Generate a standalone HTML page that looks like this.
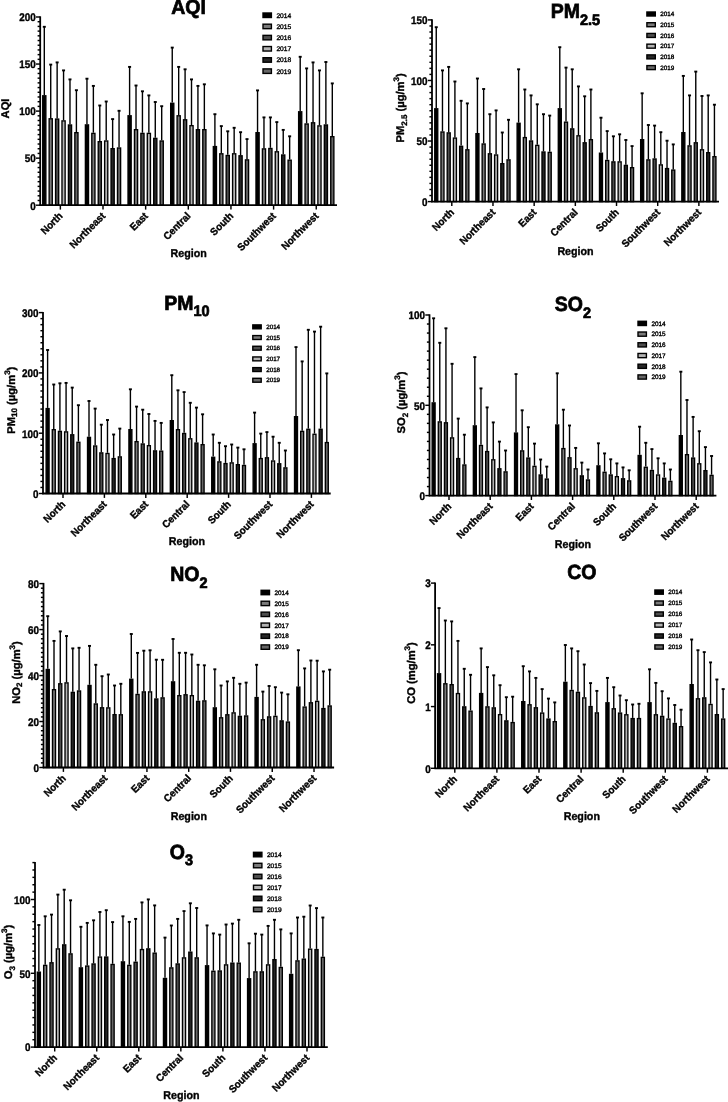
<!DOCTYPE html>
<html><head><meta charset="utf-8"><title>Charts</title>
<style>
html,body{margin:0;padding:0;background:#fff;}
body{width:728px;height:1102px;overflow:hidden;}
svg{display:block;filter:grayscale(1);text-rendering:geometricPrecision;-webkit-font-smoothing:antialiased;font-family:"Liberation Sans",sans-serif;}
.a{stroke:#000;stroke-width:1.8;}
.t{stroke:#000;stroke-width:1.45;}
.e{stroke:#000;stroke-width:1.4;}
.c{stroke:#000;stroke-width:1.9;}
.b{stroke:#000;stroke-width:1.35;}
.lb{stroke:#000;stroke-width:1.4;}
.yl{font-size:9.9px;font-weight:bold;text-anchor:end;stroke:#000;stroke-width:0.35px;}
.xl{font-size:9.8px;font-weight:bold;text-anchor:end;stroke:#000;stroke-width:0.35px;}
.rg{font-size:10.7px;font-weight:bold;text-anchor:middle;stroke:#000;stroke-width:0.35px;}
.ti{font-size:19.5px;font-weight:bold;text-anchor:middle;stroke:#000;stroke-width:0.7px;}
.yt{font-size:11.2px;font-weight:bold;text-anchor:middle;stroke:#000;stroke-width:0.35px;}
.lg{stroke:#000;stroke-width:0.35px;}
</style></head>
<body><svg width="728" height="1102" viewBox="0 0 728 1102">
<line x1="44.3" y1="95.1" x2="44.3" y2="26.8" class="e"/>
<line x1="42.8" y1="26.8" x2="45.8" y2="26.8" class="c"/>
<rect x="42.72" y="95.77" width="3.15" height="109.42" fill="#000000" class="b"/>
<line x1="50.72" y1="118.1" x2="50.72" y2="64.6" class="e"/>
<line x1="49.22" y1="64.6" x2="52.22" y2="64.6" class="c"/>
<rect x="49.14" y="118.77" width="3.15" height="86.42" fill="#7a7a7a" class="b"/>
<line x1="57.14" y1="118.4" x2="57.14" y2="62.4" class="e"/>
<line x1="55.64" y1="62.4" x2="58.64" y2="62.4" class="c"/>
<rect x="55.56" y="119.08" width="3.15" height="86.12" fill="#4e4e4e" class="b"/>
<line x1="63.56" y1="120.2" x2="63.56" y2="70.4" class="e"/>
<line x1="62.06" y1="70.4" x2="65.06" y2="70.4" class="c"/>
<rect x="61.98" y="120.88" width="3.15" height="84.32" fill="#b4b4b4" class="b"/>
<line x1="69.98" y1="124.3" x2="69.98" y2="79.4" class="e"/>
<line x1="68.48" y1="79.4" x2="71.48" y2="79.4" class="c"/>
<rect x="68.41" y="124.97" width="3.15" height="80.22" fill="#262626" class="b"/>
<line x1="76.4" y1="132" x2="76.4" y2="90.2" class="e"/>
<line x1="74.9" y1="90.2" x2="77.9" y2="90.2" class="c"/>
<rect x="74.83" y="132.68" width="3.15" height="72.52" fill="#666666" class="b"/>
<line x1="86.95" y1="124.2" x2="86.95" y2="78.7" class="e"/>
<line x1="85.45" y1="78.7" x2="88.45" y2="78.7" class="c"/>
<rect x="85.38" y="124.88" width="3.15" height="80.32" fill="#000000" class="b"/>
<line x1="93.37" y1="132.7" x2="93.37" y2="85.9" class="e"/>
<line x1="91.87" y1="85.9" x2="94.87" y2="85.9" class="c"/>
<rect x="91.8" y="133.38" width="3.15" height="71.83" fill="#7a7a7a" class="b"/>
<line x1="99.79" y1="141" x2="99.79" y2="105.5" class="e"/>
<line x1="98.29" y1="105.5" x2="101.29" y2="105.5" class="c"/>
<rect x="98.22" y="141.68" width="3.15" height="63.52" fill="#4e4e4e" class="b"/>
<line x1="106.21" y1="140.3" x2="106.21" y2="101.5" class="e"/>
<line x1="104.71" y1="101.5" x2="107.71" y2="101.5" class="c"/>
<rect x="104.63" y="140.98" width="3.15" height="64.22" fill="#b4b4b4" class="b"/>
<line x1="112.63" y1="148" x2="112.63" y2="119.1" class="e"/>
<line x1="111.13" y1="119.1" x2="114.13" y2="119.1" class="c"/>
<rect x="111.05" y="148.68" width="3.15" height="56.52" fill="#262626" class="b"/>
<line x1="119.05" y1="147.3" x2="119.05" y2="110.8" class="e"/>
<line x1="117.55" y1="110.8" x2="120.55" y2="110.8" class="c"/>
<rect x="117.47" y="147.98" width="3.15" height="57.22" fill="#666666" class="b"/>
<line x1="129.6" y1="115.1" x2="129.6" y2="66.9" class="e"/>
<line x1="128.1" y1="66.9" x2="131.1" y2="66.9" class="c"/>
<rect x="128.03" y="115.77" width="3.15" height="89.42" fill="#000000" class="b"/>
<line x1="136.02" y1="129" x2="136.02" y2="85.5" class="e"/>
<line x1="134.52" y1="85.5" x2="137.52" y2="85.5" class="c"/>
<rect x="134.45" y="129.68" width="3.15" height="75.52" fill="#7a7a7a" class="b"/>
<line x1="142.44" y1="132.7" x2="142.44" y2="91.3" class="e"/>
<line x1="140.94" y1="91.3" x2="143.94" y2="91.3" class="c"/>
<rect x="140.87" y="133.38" width="3.15" height="71.83" fill="#4e4e4e" class="b"/>
<line x1="148.86" y1="132.7" x2="148.86" y2="95.4" class="e"/>
<line x1="147.36" y1="95.4" x2="150.36" y2="95.4" class="c"/>
<rect x="147.29" y="133.38" width="3.15" height="71.83" fill="#b4b4b4" class="b"/>
<line x1="155.28" y1="137.7" x2="155.28" y2="102" class="e"/>
<line x1="153.78" y1="102" x2="156.78" y2="102" class="c"/>
<rect x="153.71" y="138.38" width="3.15" height="66.83" fill="#262626" class="b"/>
<line x1="161.7" y1="140.3" x2="161.7" y2="106.2" class="e"/>
<line x1="160.2" y1="106.2" x2="163.2" y2="106.2" class="c"/>
<rect x="160.13" y="140.98" width="3.15" height="64.22" fill="#666666" class="b"/>
<line x1="172.25" y1="102.6" x2="172.25" y2="47.6" class="e"/>
<line x1="170.75" y1="47.6" x2="173.75" y2="47.6" class="c"/>
<rect x="170.67" y="103.27" width="3.15" height="101.92" fill="#000000" class="b"/>
<line x1="178.67" y1="115.1" x2="178.67" y2="66.9" class="e"/>
<line x1="177.17" y1="66.9" x2="180.17" y2="66.9" class="c"/>
<rect x="177.09" y="115.77" width="3.15" height="89.42" fill="#7a7a7a" class="b"/>
<line x1="185.09" y1="119.1" x2="185.09" y2="69.3" class="e"/>
<line x1="183.59" y1="69.3" x2="186.59" y2="69.3" class="c"/>
<rect x="183.51" y="119.77" width="3.15" height="85.42" fill="#4e4e4e" class="b"/>
<line x1="191.51" y1="125" x2="191.51" y2="79.4" class="e"/>
<line x1="190.01" y1="79.4" x2="193.01" y2="79.4" class="c"/>
<rect x="189.94" y="125.67" width="3.15" height="79.52" fill="#b4b4b4" class="b"/>
<line x1="197.93" y1="129" x2="197.93" y2="85.9" class="e"/>
<line x1="196.43" y1="85.9" x2="199.43" y2="85.9" class="c"/>
<rect x="196.35" y="129.68" width="3.15" height="75.52" fill="#262626" class="b"/>
<line x1="204.35" y1="129" x2="204.35" y2="84.3" class="e"/>
<line x1="202.85" y1="84.3" x2="205.85" y2="84.3" class="c"/>
<rect x="202.78" y="129.68" width="3.15" height="75.52" fill="#666666" class="b"/>
<line x1="214.9" y1="145.9" x2="214.9" y2="114.2" class="e"/>
<line x1="213.4" y1="114.2" x2="216.4" y2="114.2" class="c"/>
<rect x="213.32" y="146.58" width="3.15" height="58.62" fill="#000000" class="b"/>
<line x1="221.32" y1="153.1" x2="221.32" y2="126.1" class="e"/>
<line x1="219.82" y1="126.1" x2="222.82" y2="126.1" class="c"/>
<rect x="219.75" y="153.78" width="3.15" height="51.42" fill="#7a7a7a" class="b"/>
<line x1="227.74" y1="154.8" x2="227.74" y2="131.3" class="e"/>
<line x1="226.24" y1="131.3" x2="229.24" y2="131.3" class="c"/>
<rect x="226.16" y="155.48" width="3.15" height="49.72" fill="#4e4e4e" class="b"/>
<line x1="234.16" y1="153.1" x2="234.16" y2="127.8" class="e"/>
<line x1="232.66" y1="127.8" x2="235.66" y2="127.8" class="c"/>
<rect x="232.59" y="153.78" width="3.15" height="51.42" fill="#b4b4b4" class="b"/>
<line x1="240.58" y1="155.1" x2="240.58" y2="132.2" class="e"/>
<line x1="239.08" y1="132.2" x2="242.08" y2="132.2" class="c"/>
<rect x="239" y="155.78" width="3.15" height="49.42" fill="#262626" class="b"/>
<line x1="247" y1="159.2" x2="247" y2="139.1" class="e"/>
<line x1="245.5" y1="139.1" x2="248.5" y2="139.1" class="c"/>
<rect x="245.43" y="159.88" width="3.15" height="45.33" fill="#666666" class="b"/>
<line x1="257.55" y1="132" x2="257.55" y2="90.4" class="e"/>
<line x1="256.05" y1="90.4" x2="259.05" y2="90.4" class="c"/>
<rect x="255.98" y="132.68" width="3.15" height="72.52" fill="#000000" class="b"/>
<line x1="263.97" y1="148.2" x2="263.97" y2="117.4" class="e"/>
<line x1="262.47" y1="117.4" x2="265.47" y2="117.4" class="c"/>
<rect x="262.4" y="148.88" width="3.15" height="56.33" fill="#7a7a7a" class="b"/>
<line x1="270.39" y1="147.8" x2="270.39" y2="117.4" class="e"/>
<line x1="268.89" y1="117.4" x2="271.89" y2="117.4" class="c"/>
<rect x="268.82" y="148.48" width="3.15" height="56.72" fill="#4e4e4e" class="b"/>
<line x1="276.81" y1="151.1" x2="276.81" y2="122.1" class="e"/>
<line x1="275.31" y1="122.1" x2="278.31" y2="122.1" class="c"/>
<rect x="275.24" y="151.78" width="3.15" height="53.42" fill="#b4b4b4" class="b"/>
<line x1="283.23" y1="154.3" x2="283.23" y2="129.9" class="e"/>
<line x1="281.73" y1="129.9" x2="284.73" y2="129.9" class="c"/>
<rect x="281.66" y="154.98" width="3.15" height="50.22" fill="#262626" class="b"/>
<line x1="289.65" y1="159.5" x2="289.65" y2="136.3" class="e"/>
<line x1="288.15" y1="136.3" x2="291.15" y2="136.3" class="c"/>
<rect x="288.08" y="160.18" width="3.15" height="45.02" fill="#666666" class="b"/>
<line x1="300.2" y1="111.1" x2="300.2" y2="56.8" class="e"/>
<line x1="298.7" y1="56.8" x2="301.7" y2="56.8" class="c"/>
<rect x="298.62" y="111.77" width="3.15" height="93.42" fill="#000000" class="b"/>
<line x1="306.62" y1="123.3" x2="306.62" y2="68.4" class="e"/>
<line x1="305.12" y1="68.4" x2="308.12" y2="68.4" class="c"/>
<rect x="305.05" y="123.97" width="3.15" height="81.22" fill="#7a7a7a" class="b"/>
<line x1="313.04" y1="122.1" x2="313.04" y2="62.4" class="e"/>
<line x1="311.54" y1="62.4" x2="314.54" y2="62.4" class="c"/>
<rect x="311.47" y="122.77" width="3.15" height="82.42" fill="#4e4e4e" class="b"/>
<line x1="319.46" y1="125.2" x2="319.46" y2="70.4" class="e"/>
<line x1="317.96" y1="70.4" x2="320.96" y2="70.4" class="c"/>
<rect x="317.88" y="125.88" width="3.15" height="79.32" fill="#b4b4b4" class="b"/>
<line x1="325.88" y1="124.3" x2="325.88" y2="62" class="e"/>
<line x1="324.38" y1="62" x2="327.38" y2="62" class="c"/>
<rect x="324.31" y="124.97" width="3.15" height="80.22" fill="#262626" class="b"/>
<line x1="332.3" y1="136" x2="332.3" y2="83.4" class="e"/>
<line x1="330.8" y1="83.4" x2="333.8" y2="83.4" class="c"/>
<rect x="330.73" y="136.68" width="3.15" height="68.52" fill="#666666" class="b"/>
<line x1="40.2" y1="16.3" x2="40.2" y2="205.9" class="a"/>
<line x1="39.5" y1="205.2" x2="337" y2="205.2" class="a"/>
<line x1="37.6" y1="200.49" x2="40.2" y2="200.49" class="t"/>
<line x1="37.6" y1="195.79" x2="40.2" y2="195.79" class="t"/>
<line x1="37.6" y1="191.08" x2="40.2" y2="191.08" class="t"/>
<line x1="37.6" y1="186.38" x2="40.2" y2="186.38" class="t"/>
<line x1="37.6" y1="181.67" x2="40.2" y2="181.67" class="t"/>
<line x1="37.6" y1="176.97" x2="40.2" y2="176.97" class="t"/>
<line x1="37.6" y1="172.26" x2="40.2" y2="172.26" class="t"/>
<line x1="37.6" y1="167.56" x2="40.2" y2="167.56" class="t"/>
<line x1="37.6" y1="162.85" x2="40.2" y2="162.85" class="t"/>
<line x1="37.6" y1="153.44" x2="40.2" y2="153.44" class="t"/>
<line x1="37.6" y1="148.74" x2="40.2" y2="148.74" class="t"/>
<line x1="37.6" y1="144.03" x2="40.2" y2="144.03" class="t"/>
<line x1="37.6" y1="139.33" x2="40.2" y2="139.33" class="t"/>
<line x1="37.6" y1="134.62" x2="40.2" y2="134.62" class="t"/>
<line x1="37.6" y1="129.92" x2="40.2" y2="129.92" class="t"/>
<line x1="37.6" y1="125.21" x2="40.2" y2="125.21" class="t"/>
<line x1="37.6" y1="120.51" x2="40.2" y2="120.51" class="t"/>
<line x1="37.6" y1="115.8" x2="40.2" y2="115.8" class="t"/>
<line x1="37.6" y1="106.39" x2="40.2" y2="106.39" class="t"/>
<line x1="37.6" y1="101.69" x2="40.2" y2="101.69" class="t"/>
<line x1="37.6" y1="96.98" x2="40.2" y2="96.98" class="t"/>
<line x1="37.6" y1="92.28" x2="40.2" y2="92.28" class="t"/>
<line x1="37.6" y1="87.57" x2="40.2" y2="87.57" class="t"/>
<line x1="37.6" y1="82.87" x2="40.2" y2="82.87" class="t"/>
<line x1="37.6" y1="78.16" x2="40.2" y2="78.16" class="t"/>
<line x1="37.6" y1="73.46" x2="40.2" y2="73.46" class="t"/>
<line x1="37.6" y1="68.75" x2="40.2" y2="68.75" class="t"/>
<line x1="37.6" y1="59.34" x2="40.2" y2="59.34" class="t"/>
<line x1="37.6" y1="54.64" x2="40.2" y2="54.64" class="t"/>
<line x1="37.6" y1="49.94" x2="40.2" y2="49.94" class="t"/>
<line x1="37.6" y1="45.23" x2="40.2" y2="45.23" class="t"/>
<line x1="37.6" y1="40.53" x2="40.2" y2="40.53" class="t"/>
<line x1="37.6" y1="35.82" x2="40.2" y2="35.82" class="t"/>
<line x1="37.6" y1="31.12" x2="40.2" y2="31.12" class="t"/>
<line x1="37.6" y1="26.41" x2="40.2" y2="26.41" class="t"/>
<line x1="37.6" y1="21.71" x2="40.2" y2="21.71" class="t"/>
<line x1="36" y1="205.2" x2="40.2" y2="205.2" class="t"/>
<line x1="36" y1="158.15" x2="40.2" y2="158.15" class="t"/>
<line x1="36" y1="111.1" x2="40.2" y2="111.1" class="t"/>
<line x1="36" y1="64.05" x2="40.2" y2="64.05" class="t"/>
<line x1="36" y1="17" x2="40.2" y2="17" class="t"/>
<text transform="translate(35.8 209.5) scale(1 1.12)" class="yl">0</text>
<text transform="translate(35.8 162.45) scale(1 1.12)" class="yl">50</text>
<text transform="translate(35.8 115.4) scale(1 1.12)" class="yl">100</text>
<text transform="translate(35.8 68.35) scale(1 1.12)" class="yl">150</text>
<text transform="translate(35.8 21.3) scale(1 1.12)" class="yl">200</text>
<line x1="60.35" y1="205.2" x2="60.35" y2="209.6" class="t"/>
<text transform="translate(63.35 216.6) rotate(-45) scale(1 1.05)" class="xl">North</text>
<line x1="103" y1="205.2" x2="103" y2="209.6" class="t"/>
<text transform="translate(106 216.6) rotate(-45) scale(1 1.05)" class="xl">Northeast</text>
<line x1="145.65" y1="205.2" x2="145.65" y2="209.6" class="t"/>
<text transform="translate(148.65 216.6) rotate(-45) scale(1 1.05)" class="xl">East</text>
<line x1="188.3" y1="205.2" x2="188.3" y2="209.6" class="t"/>
<text transform="translate(191.3 216.6) rotate(-45) scale(1 1.05)" class="xl">Central</text>
<line x1="230.95" y1="205.2" x2="230.95" y2="209.6" class="t"/>
<text transform="translate(233.95 216.6) rotate(-45) scale(1 1.05)" class="xl">South</text>
<line x1="273.6" y1="205.2" x2="273.6" y2="209.6" class="t"/>
<text transform="translate(276.6 216.6) rotate(-45) scale(1 1.05)" class="xl">Southwest</text>
<line x1="316.25" y1="205.2" x2="316.25" y2="209.6" class="t"/>
<text transform="translate(319.25 216.6) rotate(-45) scale(1 1.05)" class="xl">Northwest</text>
<text transform="translate(188.6 257.4) scale(1 1.06)" class="rg">Region</text>
<text transform="translate(188.6 14.4) scale(1 1.05)" class="ti"><tspan>AQI</tspan></text>
<text transform="translate(9.3 108.5) rotate(-90)" class="yt"><tspan>AQI</tspan></text>
<rect x="263" y="13" width="8.4" height="4.5" fill="#000000" class="lb"/>
<text x="276.4" y="17.65" class="lg" font-size="6.7">2014</text>
<rect x="263" y="24.18" width="8.4" height="4.5" fill="#7a7a7a" class="lb"/>
<text x="276.4" y="28.83" class="lg" font-size="6.7">2015</text>
<rect x="263" y="35.36" width="8.4" height="4.5" fill="#4e4e4e" class="lb"/>
<text x="276.4" y="40.01" class="lg" font-size="6.7">2016</text>
<rect x="263" y="46.54" width="8.4" height="4.5" fill="#b4b4b4" class="lb"/>
<text x="276.4" y="51.19" class="lg" font-size="6.7">2017</text>
<rect x="263" y="57.72" width="8.4" height="4.5" fill="#262626" class="lb"/>
<text x="276.4" y="62.37" class="lg" font-size="6.7">2018</text>
<rect x="263" y="68.9" width="8.4" height="4.5" fill="#666666" class="lb"/>
<text x="276.4" y="73.55" class="lg" font-size="6.7">2019</text>
<line x1="436.25" y1="108.1" x2="436.25" y2="27.2" class="e"/>
<line x1="434.75" y1="27.2" x2="437.75" y2="27.2" class="c"/>
<rect x="434.75" y="108.77" width="3.01" height="92.83" fill="#000000" class="b"/>
<line x1="442.47" y1="131.3" x2="442.47" y2="70.4" class="e"/>
<line x1="440.97" y1="70.4" x2="443.97" y2="70.4" class="c"/>
<rect x="440.97" y="131.98" width="3.01" height="69.62" fill="#7a7a7a" class="b"/>
<line x1="448.69" y1="132.2" x2="448.69" y2="66.9" class="e"/>
<line x1="447.19" y1="66.9" x2="450.19" y2="66.9" class="c"/>
<rect x="447.19" y="132.88" width="3.01" height="68.73" fill="#4e4e4e" class="b"/>
<line x1="454.91" y1="137.4" x2="454.91" y2="81.5" class="e"/>
<line x1="453.41" y1="81.5" x2="456.41" y2="81.5" class="c"/>
<rect x="453.41" y="138.08" width="3.01" height="63.52" fill="#b4b4b4" class="b"/>
<line x1="461.13" y1="145.6" x2="461.13" y2="100.8" class="e"/>
<line x1="459.63" y1="100.8" x2="462.63" y2="100.8" class="c"/>
<rect x="459.63" y="146.28" width="3.01" height="55.33" fill="#262626" class="b"/>
<line x1="467.35" y1="149.1" x2="467.35" y2="103.4" class="e"/>
<line x1="465.85" y1="103.4" x2="468.85" y2="103.4" class="c"/>
<rect x="465.85" y="149.78" width="3.01" height="51.83" fill="#666666" class="b"/>
<line x1="477.43" y1="133" x2="477.43" y2="78.5" class="e"/>
<line x1="475.93" y1="78.5" x2="478.93" y2="78.5" class="c"/>
<rect x="475.93" y="133.68" width="3.01" height="67.92" fill="#000000" class="b"/>
<line x1="483.65" y1="143.3" x2="483.65" y2="89" class="e"/>
<line x1="482.15" y1="89" x2="485.15" y2="89" class="c"/>
<rect x="482.15" y="143.98" width="3.01" height="57.62" fill="#7a7a7a" class="b"/>
<line x1="489.87" y1="153.1" x2="489.87" y2="114.2" class="e"/>
<line x1="488.37" y1="114.2" x2="491.37" y2="114.2" class="c"/>
<rect x="488.37" y="153.78" width="3.01" height="47.83" fill="#4e4e4e" class="b"/>
<line x1="496.09" y1="154.3" x2="496.09" y2="110.4" class="e"/>
<line x1="494.59" y1="110.4" x2="497.59" y2="110.4" class="c"/>
<rect x="494.59" y="154.98" width="3.01" height="46.62" fill="#b4b4b4" class="b"/>
<line x1="502.31" y1="163" x2="502.31" y2="132.5" class="e"/>
<line x1="500.81" y1="132.5" x2="503.81" y2="132.5" class="c"/>
<rect x="500.81" y="163.68" width="3.01" height="37.92" fill="#262626" class="b"/>
<line x1="508.53" y1="159.2" x2="508.53" y2="119.8" class="e"/>
<line x1="507.03" y1="119.8" x2="510.03" y2="119.8" class="c"/>
<rect x="507.03" y="159.88" width="3.01" height="41.73" fill="#666666" class="b"/>
<line x1="518.61" y1="122.6" x2="518.61" y2="69.3" class="e"/>
<line x1="517.11" y1="69.3" x2="520.11" y2="69.3" class="c"/>
<rect x="517.11" y="123.27" width="3.01" height="78.33" fill="#000000" class="b"/>
<line x1="524.83" y1="136.9" x2="524.83" y2="89.5" class="e"/>
<line x1="523.33" y1="89.5" x2="526.33" y2="89.5" class="c"/>
<rect x="523.33" y="137.58" width="3.01" height="64.02" fill="#7a7a7a" class="b"/>
<line x1="531.05" y1="140.3" x2="531.05" y2="95.4" class="e"/>
<line x1="529.55" y1="95.4" x2="532.55" y2="95.4" class="c"/>
<rect x="529.55" y="140.98" width="3.01" height="60.62" fill="#4e4e4e" class="b"/>
<line x1="537.27" y1="144.7" x2="537.27" y2="104.3" class="e"/>
<line x1="535.77" y1="104.3" x2="538.77" y2="104.3" class="c"/>
<rect x="535.77" y="145.38" width="3.01" height="56.23" fill="#b4b4b4" class="b"/>
<line x1="543.49" y1="151.3" x2="543.49" y2="114.2" class="e"/>
<line x1="541.99" y1="114.2" x2="544.99" y2="114.2" class="c"/>
<rect x="541.99" y="151.98" width="3.01" height="49.62" fill="#262626" class="b"/>
<line x1="549.71" y1="151.7" x2="549.71" y2="115.6" class="e"/>
<line x1="548.21" y1="115.6" x2="551.21" y2="115.6" class="c"/>
<rect x="548.21" y="152.38" width="3.01" height="49.23" fill="#666666" class="b"/>
<line x1="559.79" y1="108.1" x2="559.79" y2="47.2" class="e"/>
<line x1="558.29" y1="47.2" x2="561.29" y2="47.2" class="c"/>
<rect x="558.29" y="108.77" width="3.01" height="92.83" fill="#000000" class="b"/>
<line x1="566.01" y1="121.5" x2="566.01" y2="67.6" class="e"/>
<line x1="564.51" y1="67.6" x2="567.51" y2="67.6" class="c"/>
<rect x="564.51" y="122.17" width="3.01" height="79.42" fill="#7a7a7a" class="b"/>
<line x1="572.23" y1="128.2" x2="572.23" y2="69.3" class="e"/>
<line x1="570.73" y1="69.3" x2="573.73" y2="69.3" class="c"/>
<rect x="570.73" y="128.88" width="3.01" height="72.73" fill="#4e4e4e" class="b"/>
<line x1="578.45" y1="135.1" x2="578.45" y2="86.4" class="e"/>
<line x1="576.95" y1="86.4" x2="579.95" y2="86.4" class="c"/>
<rect x="576.95" y="135.78" width="3.01" height="65.83" fill="#b4b4b4" class="b"/>
<line x1="584.67" y1="142.1" x2="584.67" y2="96.3" class="e"/>
<line x1="583.17" y1="96.3" x2="586.17" y2="96.3" class="c"/>
<rect x="583.17" y="142.78" width="3.01" height="58.83" fill="#262626" class="b"/>
<line x1="590.89" y1="139" x2="590.89" y2="89.5" class="e"/>
<line x1="589.39" y1="89.5" x2="592.39" y2="89.5" class="c"/>
<rect x="589.39" y="139.68" width="3.01" height="61.92" fill="#666666" class="b"/>
<line x1="600.97" y1="152.5" x2="600.97" y2="117.7" class="e"/>
<line x1="599.47" y1="117.7" x2="602.47" y2="117.7" class="c"/>
<rect x="599.47" y="153.18" width="3.01" height="48.42" fill="#000000" class="b"/>
<line x1="607.19" y1="159.8" x2="607.19" y2="131.1" class="e"/>
<line x1="605.69" y1="131.1" x2="608.69" y2="131.1" class="c"/>
<rect x="605.69" y="160.48" width="3.01" height="41.12" fill="#7a7a7a" class="b"/>
<line x1="613.41" y1="161.2" x2="613.41" y2="136.3" class="e"/>
<line x1="611.91" y1="136.3" x2="614.91" y2="136.3" class="c"/>
<rect x="611.91" y="161.88" width="3.01" height="39.73" fill="#4e4e4e" class="b"/>
<line x1="619.63" y1="161.2" x2="619.63" y2="134.3" class="e"/>
<line x1="618.13" y1="134.3" x2="621.13" y2="134.3" class="c"/>
<rect x="618.13" y="161.88" width="3.01" height="39.73" fill="#b4b4b4" class="b"/>
<line x1="625.85" y1="164.7" x2="625.85" y2="140" class="e"/>
<line x1="624.35" y1="140" x2="627.35" y2="140" class="c"/>
<rect x="624.35" y="165.38" width="3.01" height="36.23" fill="#262626" class="b"/>
<line x1="632.07" y1="167" x2="632.07" y2="146.1" class="e"/>
<line x1="630.57" y1="146.1" x2="633.57" y2="146.1" class="c"/>
<rect x="630.57" y="167.68" width="3.01" height="33.92" fill="#666666" class="b"/>
<line x1="642.15" y1="139" x2="642.15" y2="93.3" class="e"/>
<line x1="640.65" y1="93.3" x2="643.65" y2="93.3" class="c"/>
<rect x="640.65" y="139.68" width="3.01" height="61.92" fill="#000000" class="b"/>
<line x1="648.37" y1="159.2" x2="648.37" y2="125" class="e"/>
<line x1="646.87" y1="125" x2="649.87" y2="125" class="c"/>
<rect x="646.87" y="159.88" width="3.01" height="41.73" fill="#7a7a7a" class="b"/>
<line x1="654.59" y1="158.3" x2="654.59" y2="125.6" class="e"/>
<line x1="653.09" y1="125.6" x2="656.09" y2="125.6" class="c"/>
<rect x="653.09" y="158.98" width="3.01" height="42.62" fill="#4e4e4e" class="b"/>
<line x1="660.81" y1="164.2" x2="660.81" y2="132.2" class="e"/>
<line x1="659.31" y1="132.2" x2="662.31" y2="132.2" class="c"/>
<rect x="659.31" y="164.88" width="3.01" height="36.73" fill="#b4b4b4" class="b"/>
<line x1="667.03" y1="167.9" x2="667.03" y2="140.7" class="e"/>
<line x1="665.53" y1="140.7" x2="668.53" y2="140.7" class="c"/>
<rect x="665.53" y="168.58" width="3.01" height="33.02" fill="#262626" class="b"/>
<line x1="673.25" y1="169.4" x2="673.25" y2="144.4" class="e"/>
<line x1="671.75" y1="144.4" x2="674.75" y2="144.4" class="c"/>
<rect x="671.75" y="170.08" width="3.01" height="31.52" fill="#666666" class="b"/>
<line x1="683.33" y1="132" x2="683.33" y2="75.9" class="e"/>
<line x1="681.83" y1="75.9" x2="684.83" y2="75.9" class="c"/>
<rect x="681.83" y="132.68" width="3.01" height="68.92" fill="#000000" class="b"/>
<line x1="689.55" y1="145.2" x2="689.55" y2="95.4" class="e"/>
<line x1="688.05" y1="95.4" x2="691.05" y2="95.4" class="c"/>
<rect x="688.05" y="145.88" width="3.01" height="55.73" fill="#7a7a7a" class="b"/>
<line x1="695.77" y1="142.1" x2="695.77" y2="71.6" class="e"/>
<line x1="694.27" y1="71.6" x2="697.27" y2="71.6" class="c"/>
<rect x="694.27" y="142.78" width="3.01" height="58.83" fill="#4e4e4e" class="b"/>
<line x1="701.99" y1="149.1" x2="701.99" y2="96" class="e"/>
<line x1="700.49" y1="96" x2="703.49" y2="96" class="c"/>
<rect x="700.49" y="149.78" width="3.01" height="51.83" fill="#b4b4b4" class="b"/>
<line x1="708.21" y1="152" x2="708.21" y2="95.4" class="e"/>
<line x1="706.71" y1="95.4" x2="709.71" y2="95.4" class="c"/>
<rect x="706.71" y="152.68" width="3.01" height="48.92" fill="#262626" class="b"/>
<line x1="714.43" y1="156" x2="714.43" y2="104.7" class="e"/>
<line x1="712.93" y1="104.7" x2="715.93" y2="104.7" class="c"/>
<rect x="712.93" y="156.68" width="3.01" height="44.92" fill="#666666" class="b"/>
<line x1="432" y1="19.2" x2="432" y2="202.3" class="a"/>
<line x1="431.3" y1="201.6" x2="719" y2="201.6" class="a"/>
<line x1="429.4" y1="195.54" x2="432" y2="195.54" class="t"/>
<line x1="429.4" y1="189.49" x2="432" y2="189.49" class="t"/>
<line x1="429.4" y1="183.43" x2="432" y2="183.43" class="t"/>
<line x1="429.4" y1="177.37" x2="432" y2="177.37" class="t"/>
<line x1="429.4" y1="171.32" x2="432" y2="171.32" class="t"/>
<line x1="429.4" y1="165.26" x2="432" y2="165.26" class="t"/>
<line x1="429.4" y1="159.2" x2="432" y2="159.2" class="t"/>
<line x1="429.4" y1="153.15" x2="432" y2="153.15" class="t"/>
<line x1="429.4" y1="147.09" x2="432" y2="147.09" class="t"/>
<line x1="429.4" y1="134.98" x2="432" y2="134.98" class="t"/>
<line x1="429.4" y1="128.92" x2="432" y2="128.92" class="t"/>
<line x1="429.4" y1="122.86" x2="432" y2="122.86" class="t"/>
<line x1="429.4" y1="116.81" x2="432" y2="116.81" class="t"/>
<line x1="429.4" y1="110.75" x2="432" y2="110.75" class="t"/>
<line x1="429.4" y1="104.69" x2="432" y2="104.69" class="t"/>
<line x1="429.4" y1="98.64" x2="432" y2="98.64" class="t"/>
<line x1="429.4" y1="92.58" x2="432" y2="92.58" class="t"/>
<line x1="429.4" y1="86.52" x2="432" y2="86.52" class="t"/>
<line x1="429.4" y1="74.41" x2="432" y2="74.41" class="t"/>
<line x1="429.4" y1="68.35" x2="432" y2="68.35" class="t"/>
<line x1="429.4" y1="62.3" x2="432" y2="62.3" class="t"/>
<line x1="429.4" y1="56.24" x2="432" y2="56.24" class="t"/>
<line x1="429.4" y1="50.18" x2="432" y2="50.18" class="t"/>
<line x1="429.4" y1="44.13" x2="432" y2="44.13" class="t"/>
<line x1="429.4" y1="38.07" x2="432" y2="38.07" class="t"/>
<line x1="429.4" y1="32.01" x2="432" y2="32.01" class="t"/>
<line x1="429.4" y1="25.96" x2="432" y2="25.96" class="t"/>
<line x1="427.8" y1="201.6" x2="432" y2="201.6" class="t"/>
<line x1="427.8" y1="141.03" x2="432" y2="141.03" class="t"/>
<line x1="427.8" y1="80.47" x2="432" y2="80.47" class="t"/>
<line x1="427.8" y1="19.9" x2="432" y2="19.9" class="t"/>
<text transform="translate(427.6 205.9) scale(1 1.12)" class="yl">0</text>
<text transform="translate(427.6 145.33) scale(1 1.12)" class="yl">50</text>
<text transform="translate(427.6 84.77) scale(1 1.12)" class="yl">100</text>
<text transform="translate(427.6 24.2) scale(1 1.12)" class="yl">150</text>
<line x1="451.8" y1="201.6" x2="451.8" y2="206" class="t"/>
<text transform="translate(454.8 213) rotate(-45) scale(1 1.05)" class="xl">North</text>
<line x1="492.98" y1="201.6" x2="492.98" y2="206" class="t"/>
<text transform="translate(495.98 213) rotate(-45) scale(1 1.05)" class="xl">Northeast</text>
<line x1="534.16" y1="201.6" x2="534.16" y2="206" class="t"/>
<text transform="translate(537.16 213) rotate(-45) scale(1 1.05)" class="xl">East</text>
<line x1="575.34" y1="201.6" x2="575.34" y2="206" class="t"/>
<text transform="translate(578.34 213) rotate(-45) scale(1 1.05)" class="xl">Central</text>
<line x1="616.52" y1="201.6" x2="616.52" y2="206" class="t"/>
<text transform="translate(619.52 213) rotate(-45) scale(1 1.05)" class="xl">South</text>
<line x1="657.7" y1="201.6" x2="657.7" y2="206" class="t"/>
<text transform="translate(660.7 213) rotate(-45) scale(1 1.05)" class="xl">Southwest</text>
<line x1="698.88" y1="201.6" x2="698.88" y2="206" class="t"/>
<text transform="translate(701.88 213) rotate(-45) scale(1 1.05)" class="xl">Northwest</text>
<text transform="translate(575.5 255.2) scale(1 1.06)" class="rg">Region</text>
<text transform="translate(575.5 17.9) scale(1 1.05)" class="ti"><tspan>PM</tspan><tspan dy="6.3" font-size="14.5">2.5</tspan></text>
<text transform="translate(404 107.9) rotate(-90)" class="yt"><tspan>PM</tspan><tspan dy="2.6" font-size="8">2.5</tspan><tspan dy="-2.6"> (µg/m</tspan><tspan dy="-4.6" font-size="8">3</tspan><tspan dy="4.6">)</tspan></text>
<rect x="646.9" y="12" width="8.4" height="4" fill="#000000" class="lb"/>
<text x="660.3" y="16.26" class="lg" font-size="6.3">2014</text>
<rect x="646.9" y="22.72" width="8.4" height="4" fill="#7a7a7a" class="lb"/>
<text x="660.3" y="26.98" class="lg" font-size="6.3">2015</text>
<rect x="646.9" y="33.44" width="8.4" height="4" fill="#4e4e4e" class="lb"/>
<text x="660.3" y="37.7" class="lg" font-size="6.3">2016</text>
<rect x="646.9" y="44.16" width="8.4" height="4" fill="#b4b4b4" class="lb"/>
<text x="660.3" y="48.42" class="lg" font-size="6.3">2017</text>
<rect x="646.9" y="54.88" width="8.4" height="4" fill="#262626" class="lb"/>
<text x="660.3" y="59.14" class="lg" font-size="6.3">2018</text>
<rect x="646.9" y="65.6" width="8.4" height="4" fill="#666666" class="lb"/>
<text x="660.3" y="69.86" class="lg" font-size="6.3">2019</text>
<line x1="47.6" y1="407.9" x2="47.6" y2="350" class="e"/>
<line x1="46.1" y1="350" x2="49.1" y2="350" class="c"/>
<rect x="46.12" y="408.57" width="2.97" height="84.93" fill="#000000" class="b"/>
<line x1="53.76" y1="429" x2="53.76" y2="384.5" class="e"/>
<line x1="52.26" y1="384.5" x2="55.26" y2="384.5" class="c"/>
<rect x="52.28" y="429.68" width="2.97" height="63.83" fill="#7a7a7a" class="b"/>
<line x1="59.92" y1="430.7" x2="59.92" y2="383.3" class="e"/>
<line x1="58.42" y1="383.3" x2="61.42" y2="383.3" class="c"/>
<rect x="58.44" y="431.38" width="2.97" height="62.13" fill="#4e4e4e" class="b"/>
<line x1="66.08" y1="431.2" x2="66.08" y2="382.9" class="e"/>
<line x1="64.58" y1="382.9" x2="67.58" y2="382.9" class="c"/>
<rect x="64.6" y="431.88" width="2.97" height="61.63" fill="#b4b4b4" class="b"/>
<line x1="72.24" y1="434.1" x2="72.24" y2="387.6" class="e"/>
<line x1="70.74" y1="387.6" x2="73.74" y2="387.6" class="c"/>
<rect x="70.76" y="434.78" width="2.97" height="58.72" fill="#262626" class="b"/>
<line x1="78.4" y1="441.6" x2="78.4" y2="405.2" class="e"/>
<line x1="76.9" y1="405.2" x2="79.9" y2="405.2" class="c"/>
<rect x="76.92" y="442.28" width="2.97" height="51.22" fill="#666666" class="b"/>
<line x1="89" y1="436.7" x2="89" y2="401" class="e"/>
<line x1="87.5" y1="401" x2="90.5" y2="401" class="c"/>
<rect x="87.52" y="437.38" width="2.97" height="56.13" fill="#000000" class="b"/>
<line x1="95.16" y1="445.3" x2="95.16" y2="408.6" class="e"/>
<line x1="93.66" y1="408.6" x2="96.66" y2="408.6" class="c"/>
<rect x="93.68" y="445.98" width="2.97" height="47.52" fill="#7a7a7a" class="b"/>
<line x1="101.32" y1="452.2" x2="101.32" y2="424.7" class="e"/>
<line x1="99.82" y1="424.7" x2="102.82" y2="424.7" class="c"/>
<rect x="99.84" y="452.88" width="2.97" height="40.63" fill="#4e4e4e" class="b"/>
<line x1="107.48" y1="452.8" x2="107.48" y2="420" class="e"/>
<line x1="105.98" y1="420" x2="108.98" y2="420" class="c"/>
<rect x="106" y="453.48" width="2.97" height="40.02" fill="#b4b4b4" class="b"/>
<line x1="113.64" y1="457.9" x2="113.64" y2="434.5" class="e"/>
<line x1="112.14" y1="434.5" x2="115.14" y2="434.5" class="c"/>
<rect x="112.16" y="458.57" width="2.97" height="34.93" fill="#262626" class="b"/>
<line x1="119.8" y1="456.2" x2="119.8" y2="428.6" class="e"/>
<line x1="118.3" y1="428.6" x2="121.3" y2="428.6" class="c"/>
<rect x="118.32" y="456.88" width="2.97" height="36.63" fill="#666666" class="b"/>
<line x1="130.4" y1="429" x2="130.4" y2="389.3" class="e"/>
<line x1="128.9" y1="389.3" x2="131.9" y2="389.3" class="c"/>
<rect x="128.92" y="429.68" width="2.97" height="63.83" fill="#000000" class="b"/>
<line x1="136.56" y1="441" x2="136.56" y2="406.6" class="e"/>
<line x1="135.06" y1="406.6" x2="138.06" y2="406.6" class="c"/>
<rect x="135.08" y="441.68" width="2.97" height="51.83" fill="#7a7a7a" class="b"/>
<line x1="142.72" y1="443.3" x2="142.72" y2="409.7" class="e"/>
<line x1="141.22" y1="409.7" x2="144.22" y2="409.7" class="c"/>
<rect x="141.24" y="443.98" width="2.97" height="49.52" fill="#4e4e4e" class="b"/>
<line x1="148.88" y1="445" x2="148.88" y2="414" class="e"/>
<line x1="147.38" y1="414" x2="150.38" y2="414" class="c"/>
<rect x="147.4" y="445.68" width="2.97" height="47.83" fill="#b4b4b4" class="b"/>
<line x1="155.04" y1="450.2" x2="155.04" y2="420.9" class="e"/>
<line x1="153.54" y1="420.9" x2="156.54" y2="420.9" class="c"/>
<rect x="153.56" y="450.88" width="2.97" height="42.63" fill="#262626" class="b"/>
<line x1="161.2" y1="450.5" x2="161.2" y2="422.9" class="e"/>
<line x1="159.7" y1="422.9" x2="162.7" y2="422.9" class="c"/>
<rect x="159.72" y="451.18" width="2.97" height="42.33" fill="#666666" class="b"/>
<line x1="171.8" y1="420" x2="171.8" y2="375.2" class="e"/>
<line x1="170.3" y1="375.2" x2="173.3" y2="375.2" class="c"/>
<rect x="170.32" y="420.68" width="2.97" height="72.83" fill="#000000" class="b"/>
<line x1="177.96" y1="429" x2="177.96" y2="390.3" class="e"/>
<line x1="176.46" y1="390.3" x2="179.46" y2="390.3" class="c"/>
<rect x="176.48" y="429.68" width="2.97" height="63.83" fill="#7a7a7a" class="b"/>
<line x1="184.12" y1="432.8" x2="184.12" y2="392.1" class="e"/>
<line x1="182.62" y1="392.1" x2="185.62" y2="392.1" class="c"/>
<rect x="182.64" y="433.48" width="2.97" height="60.02" fill="#4e4e4e" class="b"/>
<line x1="190.28" y1="438.1" x2="190.28" y2="402.8" class="e"/>
<line x1="188.78" y1="402.8" x2="191.78" y2="402.8" class="c"/>
<rect x="188.8" y="438.78" width="2.97" height="54.72" fill="#b4b4b4" class="b"/>
<line x1="196.44" y1="442.4" x2="196.44" y2="407.6" class="e"/>
<line x1="194.94" y1="407.6" x2="197.94" y2="407.6" class="c"/>
<rect x="194.96" y="443.07" width="2.97" height="50.43" fill="#262626" class="b"/>
<line x1="202.6" y1="444" x2="202.6" y2="414.3" class="e"/>
<line x1="201.1" y1="414.3" x2="204.1" y2="414.3" class="c"/>
<rect x="201.12" y="444.68" width="2.97" height="48.83" fill="#666666" class="b"/>
<line x1="213.2" y1="456.6" x2="213.2" y2="434.5" class="e"/>
<line x1="211.7" y1="434.5" x2="214.7" y2="434.5" class="c"/>
<rect x="211.72" y="457.28" width="2.97" height="36.22" fill="#000000" class="b"/>
<line x1="219.36" y1="461.2" x2="219.36" y2="442.8" class="e"/>
<line x1="217.86" y1="442.8" x2="220.86" y2="442.8" class="c"/>
<rect x="217.88" y="461.88" width="2.97" height="31.63" fill="#7a7a7a" class="b"/>
<line x1="225.52" y1="462.9" x2="225.52" y2="446.2" class="e"/>
<line x1="224.02" y1="446.2" x2="227.02" y2="446.2" class="c"/>
<rect x="224.04" y="463.57" width="2.97" height="29.93" fill="#4e4e4e" class="b"/>
<line x1="231.68" y1="462.2" x2="231.68" y2="444.5" class="e"/>
<line x1="230.18" y1="444.5" x2="233.18" y2="444.5" class="c"/>
<rect x="230.2" y="462.88" width="2.97" height="30.63" fill="#b4b4b4" class="b"/>
<line x1="237.84" y1="464" x2="237.84" y2="447.6" class="e"/>
<line x1="236.34" y1="447.6" x2="239.34" y2="447.6" class="c"/>
<rect x="236.36" y="464.68" width="2.97" height="28.82" fill="#262626" class="b"/>
<line x1="244" y1="464.8" x2="244" y2="449.3" class="e"/>
<line x1="242.5" y1="449.3" x2="245.5" y2="449.3" class="c"/>
<rect x="242.52" y="465.48" width="2.97" height="28.02" fill="#666666" class="b"/>
<line x1="254.6" y1="443.1" x2="254.6" y2="412.6" class="e"/>
<line x1="253.1" y1="412.6" x2="256.1" y2="412.6" class="c"/>
<rect x="253.12" y="443.78" width="2.97" height="49.72" fill="#000000" class="b"/>
<line x1="260.76" y1="457.9" x2="260.76" y2="433.6" class="e"/>
<line x1="259.26" y1="433.6" x2="262.26" y2="433.6" class="c"/>
<rect x="259.28" y="458.57" width="2.97" height="34.93" fill="#7a7a7a" class="b"/>
<line x1="266.92" y1="457.1" x2="266.92" y2="432.1" class="e"/>
<line x1="265.42" y1="432.1" x2="268.42" y2="432.1" class="c"/>
<rect x="265.44" y="457.78" width="2.97" height="35.72" fill="#4e4e4e" class="b"/>
<line x1="273.08" y1="460.3" x2="273.08" y2="436.7" class="e"/>
<line x1="271.58" y1="436.7" x2="274.58" y2="436.7" class="c"/>
<rect x="271.6" y="460.98" width="2.97" height="32.52" fill="#b4b4b4" class="b"/>
<line x1="279.24" y1="463.1" x2="279.24" y2="442.8" class="e"/>
<line x1="277.74" y1="442.8" x2="280.74" y2="442.8" class="c"/>
<rect x="277.76" y="463.78" width="2.97" height="29.72" fill="#262626" class="b"/>
<line x1="285.4" y1="467.2" x2="285.4" y2="450.5" class="e"/>
<line x1="283.9" y1="450.5" x2="286.9" y2="450.5" class="c"/>
<rect x="283.92" y="467.88" width="2.97" height="25.63" fill="#666666" class="b"/>
<line x1="296" y1="416" x2="296" y2="347.1" class="e"/>
<line x1="294.5" y1="347.1" x2="297.5" y2="347.1" class="c"/>
<rect x="294.52" y="416.68" width="2.97" height="76.83" fill="#000000" class="b"/>
<line x1="302.16" y1="430.7" x2="302.16" y2="361.4" class="e"/>
<line x1="300.66" y1="361.4" x2="303.66" y2="361.4" class="c"/>
<rect x="300.68" y="431.38" width="2.97" height="62.13" fill="#7a7a7a" class="b"/>
<line x1="308.32" y1="428.6" x2="308.32" y2="329.8" class="e"/>
<line x1="306.82" y1="329.8" x2="309.82" y2="329.8" class="c"/>
<rect x="306.84" y="429.28" width="2.97" height="64.22" fill="#4e4e4e" class="b"/>
<line x1="314.48" y1="433.6" x2="314.48" y2="331.6" class="e"/>
<line x1="312.98" y1="331.6" x2="315.98" y2="331.6" class="c"/>
<rect x="313" y="434.28" width="2.97" height="59.22" fill="#b4b4b4" class="b"/>
<line x1="320.64" y1="428.6" x2="320.64" y2="326.7" class="e"/>
<line x1="319.14" y1="326.7" x2="322.14" y2="326.7" class="c"/>
<rect x="319.16" y="429.28" width="2.97" height="64.22" fill="#262626" class="b"/>
<line x1="326.8" y1="441.9" x2="326.8" y2="373.4" class="e"/>
<line x1="325.3" y1="373.4" x2="328.3" y2="373.4" class="c"/>
<rect x="325.32" y="442.57" width="2.97" height="50.93" fill="#666666" class="b"/>
<line x1="43" y1="311.9" x2="43" y2="494.2" class="a"/>
<line x1="42.3" y1="493.5" x2="330.7" y2="493.5" class="a"/>
<line x1="40.4" y1="487.47" x2="43" y2="487.47" class="t"/>
<line x1="40.4" y1="481.44" x2="43" y2="481.44" class="t"/>
<line x1="40.4" y1="475.41" x2="43" y2="475.41" class="t"/>
<line x1="40.4" y1="469.38" x2="43" y2="469.38" class="t"/>
<line x1="40.4" y1="463.35" x2="43" y2="463.35" class="t"/>
<line x1="40.4" y1="457.32" x2="43" y2="457.32" class="t"/>
<line x1="40.4" y1="451.29" x2="43" y2="451.29" class="t"/>
<line x1="40.4" y1="445.26" x2="43" y2="445.26" class="t"/>
<line x1="40.4" y1="439.23" x2="43" y2="439.23" class="t"/>
<line x1="40.4" y1="427.17" x2="43" y2="427.17" class="t"/>
<line x1="40.4" y1="421.14" x2="43" y2="421.14" class="t"/>
<line x1="40.4" y1="415.11" x2="43" y2="415.11" class="t"/>
<line x1="40.4" y1="409.08" x2="43" y2="409.08" class="t"/>
<line x1="40.4" y1="403.05" x2="43" y2="403.05" class="t"/>
<line x1="40.4" y1="397.02" x2="43" y2="397.02" class="t"/>
<line x1="40.4" y1="390.99" x2="43" y2="390.99" class="t"/>
<line x1="40.4" y1="384.96" x2="43" y2="384.96" class="t"/>
<line x1="40.4" y1="378.93" x2="43" y2="378.93" class="t"/>
<line x1="40.4" y1="366.87" x2="43" y2="366.87" class="t"/>
<line x1="40.4" y1="360.84" x2="43" y2="360.84" class="t"/>
<line x1="40.4" y1="354.81" x2="43" y2="354.81" class="t"/>
<line x1="40.4" y1="348.78" x2="43" y2="348.78" class="t"/>
<line x1="40.4" y1="342.75" x2="43" y2="342.75" class="t"/>
<line x1="40.4" y1="336.72" x2="43" y2="336.72" class="t"/>
<line x1="40.4" y1="330.69" x2="43" y2="330.69" class="t"/>
<line x1="40.4" y1="324.66" x2="43" y2="324.66" class="t"/>
<line x1="40.4" y1="318.63" x2="43" y2="318.63" class="t"/>
<line x1="38.8" y1="493.5" x2="43" y2="493.5" class="t"/>
<line x1="38.8" y1="433.2" x2="43" y2="433.2" class="t"/>
<line x1="38.8" y1="372.9" x2="43" y2="372.9" class="t"/>
<line x1="38.8" y1="312.6" x2="43" y2="312.6" class="t"/>
<text transform="translate(38.6 497.8) scale(1 1.12)" class="yl">0</text>
<text transform="translate(38.6 437.5) scale(1 1.12)" class="yl">100</text>
<text transform="translate(38.6 377.2) scale(1 1.12)" class="yl">200</text>
<text transform="translate(38.6 316.9) scale(1 1.12)" class="yl">300</text>
<line x1="63" y1="493.5" x2="63" y2="497.9" class="t"/>
<text transform="translate(66 504.9) rotate(-45) scale(1 1.05)" class="xl">North</text>
<line x1="104.4" y1="493.5" x2="104.4" y2="497.9" class="t"/>
<text transform="translate(107.4 504.9) rotate(-45) scale(1 1.05)" class="xl">Northeast</text>
<line x1="145.8" y1="493.5" x2="145.8" y2="497.9" class="t"/>
<text transform="translate(148.8 504.9) rotate(-45) scale(1 1.05)" class="xl">East</text>
<line x1="187.2" y1="493.5" x2="187.2" y2="497.9" class="t"/>
<text transform="translate(190.2 504.9) rotate(-45) scale(1 1.05)" class="xl">Central</text>
<line x1="228.6" y1="493.5" x2="228.6" y2="497.9" class="t"/>
<text transform="translate(231.6 504.9) rotate(-45) scale(1 1.05)" class="xl">South</text>
<line x1="270" y1="493.5" x2="270" y2="497.9" class="t"/>
<text transform="translate(273 504.9) rotate(-45) scale(1 1.05)" class="xl">Southwest</text>
<line x1="311.4" y1="493.5" x2="311.4" y2="497.9" class="t"/>
<text transform="translate(314.4 504.9) rotate(-45) scale(1 1.05)" class="xl">Northwest</text>
<text transform="translate(186.85 545.2) scale(1 1.06)" class="rg">Region</text>
<text transform="translate(186.85 309.7) scale(1 1.05)" class="ti"><tspan>PM</tspan><tspan dy="6.3" font-size="14.5">10</tspan></text>
<text transform="translate(14.8 400.2) rotate(-90)" class="yt"><tspan>PM</tspan><tspan dy="2.6" font-size="8">10</tspan><tspan dy="-2.6"> (µg/m</tspan><tspan dy="-4.6" font-size="8">3</tspan><tspan dy="4.6">)</tspan></text>
<rect x="252.8" y="324.9" width="8.4" height="3.9" fill="#000000" class="lb"/>
<text x="266.2" y="329.09" class="lg" font-size="6.25">2014</text>
<rect x="252.8" y="335.58" width="8.4" height="3.9" fill="#7a7a7a" class="lb"/>
<text x="266.2" y="339.77" class="lg" font-size="6.25">2015</text>
<rect x="252.8" y="346.26" width="8.4" height="3.9" fill="#4e4e4e" class="lb"/>
<text x="266.2" y="350.45" class="lg" font-size="6.25">2016</text>
<rect x="252.8" y="356.94" width="8.4" height="3.9" fill="#b4b4b4" class="lb"/>
<text x="266.2" y="361.13" class="lg" font-size="6.25">2017</text>
<rect x="252.8" y="367.62" width="8.4" height="3.9" fill="#262626" class="lb"/>
<text x="266.2" y="371.81" class="lg" font-size="6.25">2018</text>
<rect x="252.8" y="378.3" width="8.4" height="3.9" fill="#666666" class="lb"/>
<text x="266.2" y="382.49" class="lg" font-size="6.25">2019</text>
<line x1="433.62" y1="402.2" x2="433.62" y2="318.3" class="e"/>
<line x1="432.12" y1="318.3" x2="435.12" y2="318.3" class="c"/>
<rect x="432.14" y="402.88" width="2.96" height="92.73" fill="#000000" class="b"/>
<line x1="439.77" y1="421.2" x2="439.77" y2="342.8" class="e"/>
<line x1="438.27" y1="342.8" x2="441.27" y2="342.8" class="c"/>
<rect x="438.29" y="421.88" width="2.96" height="73.73" fill="#7a7a7a" class="b"/>
<line x1="445.93" y1="422.1" x2="445.93" y2="328.3" class="e"/>
<line x1="444.43" y1="328.3" x2="447.43" y2="328.3" class="c"/>
<rect x="444.44" y="422.78" width="2.96" height="72.83" fill="#4e4e4e" class="b"/>
<line x1="452.07" y1="437.2" x2="452.07" y2="363.8" class="e"/>
<line x1="450.57" y1="363.8" x2="453.57" y2="363.8" class="c"/>
<rect x="450.59" y="437.88" width="2.96" height="57.73" fill="#b4b4b4" class="b"/>
<line x1="458.23" y1="457.9" x2="458.23" y2="418.6" class="e"/>
<line x1="456.73" y1="418.6" x2="459.73" y2="418.6" class="c"/>
<rect x="456.74" y="458.57" width="2.96" height="37.03" fill="#262626" class="b"/>
<line x1="464.38" y1="464.3" x2="464.38" y2="434.7" class="e"/>
<line x1="462.88" y1="434.7" x2="465.88" y2="434.7" class="c"/>
<rect x="462.89" y="464.98" width="2.96" height="30.63" fill="#666666" class="b"/>
<line x1="474.82" y1="425.2" x2="474.82" y2="357.1" class="e"/>
<line x1="473.32" y1="357.1" x2="476.32" y2="357.1" class="c"/>
<rect x="473.34" y="425.88" width="2.96" height="69.73" fill="#000000" class="b"/>
<line x1="480.97" y1="444.8" x2="480.97" y2="388.4" class="e"/>
<line x1="479.47" y1="388.4" x2="482.47" y2="388.4" class="c"/>
<rect x="479.49" y="445.48" width="2.96" height="50.13" fill="#7a7a7a" class="b"/>
<line x1="487.12" y1="450.9" x2="487.12" y2="407.4" class="e"/>
<line x1="485.62" y1="407.4" x2="488.62" y2="407.4" class="c"/>
<rect x="485.64" y="451.57" width="2.96" height="44.03" fill="#4e4e4e" class="b"/>
<line x1="493.27" y1="459.1" x2="493.27" y2="422.4" class="e"/>
<line x1="491.77" y1="422.4" x2="494.77" y2="422.4" class="c"/>
<rect x="491.79" y="459.78" width="2.96" height="35.83" fill="#b4b4b4" class="b"/>
<line x1="499.43" y1="468.1" x2="499.43" y2="441.6" class="e"/>
<line x1="497.93" y1="441.6" x2="500.93" y2="441.6" class="c"/>
<rect x="497.94" y="468.78" width="2.96" height="26.82" fill="#262626" class="b"/>
<line x1="505.57" y1="471.2" x2="505.57" y2="450.5" class="e"/>
<line x1="504.07" y1="450.5" x2="507.07" y2="450.5" class="c"/>
<rect x="504.09" y="471.88" width="2.96" height="23.73" fill="#666666" class="b"/>
<line x1="516.02" y1="432.4" x2="516.02" y2="374.1" class="e"/>
<line x1="514.52" y1="374.1" x2="517.52" y2="374.1" class="c"/>
<rect x="514.54" y="433.07" width="2.96" height="62.53" fill="#000000" class="b"/>
<line x1="522.17" y1="450.2" x2="522.17" y2="410.3" class="e"/>
<line x1="520.67" y1="410.3" x2="523.67" y2="410.3" class="c"/>
<rect x="520.69" y="450.88" width="2.96" height="44.73" fill="#7a7a7a" class="b"/>
<line x1="528.32" y1="457.4" x2="528.32" y2="427.2" class="e"/>
<line x1="526.82" y1="427.2" x2="529.82" y2="427.2" class="c"/>
<rect x="526.84" y="458.07" width="2.96" height="37.53" fill="#4e4e4e" class="b"/>
<line x1="534.48" y1="465.7" x2="534.48" y2="443.6" class="e"/>
<line x1="532.98" y1="443.6" x2="535.98" y2="443.6" class="c"/>
<rect x="532.99" y="466.38" width="2.96" height="29.23" fill="#b4b4b4" class="b"/>
<line x1="540.62" y1="474.3" x2="540.62" y2="459.5" class="e"/>
<line x1="539.12" y1="459.5" x2="542.12" y2="459.5" class="c"/>
<rect x="539.14" y="474.98" width="2.96" height="20.63" fill="#262626" class="b"/>
<line x1="546.77" y1="478.4" x2="546.77" y2="466.6" class="e"/>
<line x1="545.27" y1="466.6" x2="548.27" y2="466.6" class="c"/>
<rect x="545.29" y="479.07" width="2.96" height="16.53" fill="#666666" class="b"/>
<line x1="557.23" y1="424.3" x2="557.23" y2="373.3" class="e"/>
<line x1="555.73" y1="373.3" x2="558.73" y2="373.3" class="c"/>
<rect x="555.74" y="424.98" width="2.96" height="70.63" fill="#000000" class="b"/>
<line x1="563.38" y1="447.9" x2="563.38" y2="409.7" class="e"/>
<line x1="561.88" y1="409.7" x2="564.88" y2="409.7" class="c"/>
<rect x="561.89" y="448.57" width="2.96" height="47.03" fill="#7a7a7a" class="b"/>
<line x1="569.52" y1="457.1" x2="569.52" y2="425.5" class="e"/>
<line x1="568.02" y1="425.5" x2="571.02" y2="425.5" class="c"/>
<rect x="568.04" y="457.78" width="2.96" height="37.83" fill="#4e4e4e" class="b"/>
<line x1="575.68" y1="468.1" x2="575.68" y2="447.9" class="e"/>
<line x1="574.18" y1="447.9" x2="577.18" y2="447.9" class="c"/>
<rect x="574.19" y="468.78" width="2.96" height="26.82" fill="#b4b4b4" class="b"/>
<line x1="581.83" y1="475.2" x2="581.83" y2="462.6" class="e"/>
<line x1="580.33" y1="462.6" x2="583.33" y2="462.6" class="c"/>
<rect x="580.34" y="475.88" width="2.96" height="19.73" fill="#262626" class="b"/>
<line x1="587.98" y1="479.3" x2="587.98" y2="469.5" class="e"/>
<line x1="586.48" y1="469.5" x2="589.48" y2="469.5" class="c"/>
<rect x="586.49" y="479.98" width="2.96" height="15.63" fill="#666666" class="b"/>
<line x1="598.42" y1="465.2" x2="598.42" y2="443.3" class="e"/>
<line x1="596.92" y1="443.3" x2="599.92" y2="443.3" class="c"/>
<rect x="596.94" y="465.88" width="2.96" height="29.73" fill="#000000" class="b"/>
<line x1="604.57" y1="471.6" x2="604.57" y2="453.4" class="e"/>
<line x1="603.07" y1="453.4" x2="606.07" y2="453.4" class="c"/>
<rect x="603.09" y="472.28" width="2.96" height="23.32" fill="#7a7a7a" class="b"/>
<line x1="610.72" y1="474.3" x2="610.72" y2="459.3" class="e"/>
<line x1="609.22" y1="459.3" x2="612.22" y2="459.3" class="c"/>
<rect x="609.24" y="474.98" width="2.96" height="20.63" fill="#4e4e4e" class="b"/>
<line x1="616.88" y1="476" x2="616.88" y2="463.4" class="e"/>
<line x1="615.38" y1="463.4" x2="618.38" y2="463.4" class="c"/>
<rect x="615.39" y="476.68" width="2.96" height="18.93" fill="#b4b4b4" class="b"/>
<line x1="623.02" y1="478.1" x2="623.02" y2="467.4" class="e"/>
<line x1="621.52" y1="467.4" x2="624.52" y2="467.4" class="c"/>
<rect x="621.54" y="478.78" width="2.96" height="16.82" fill="#262626" class="b"/>
<line x1="629.17" y1="480.2" x2="629.17" y2="470.3" class="e"/>
<line x1="627.67" y1="470.3" x2="630.67" y2="470.3" class="c"/>
<rect x="627.69" y="480.88" width="2.96" height="14.73" fill="#666666" class="b"/>
<line x1="639.62" y1="454.8" x2="639.62" y2="426.7" class="e"/>
<line x1="638.12" y1="426.7" x2="641.12" y2="426.7" class="c"/>
<rect x="638.14" y="455.48" width="2.96" height="40.13" fill="#000000" class="b"/>
<line x1="645.77" y1="466.6" x2="645.77" y2="442.8" class="e"/>
<line x1="644.27" y1="442.8" x2="647.27" y2="442.8" class="c"/>
<rect x="644.29" y="467.28" width="2.96" height="28.32" fill="#7a7a7a" class="b"/>
<line x1="651.92" y1="469.8" x2="651.92" y2="449.1" class="e"/>
<line x1="650.42" y1="449.1" x2="653.42" y2="449.1" class="c"/>
<rect x="650.44" y="470.48" width="2.96" height="25.13" fill="#4e4e4e" class="b"/>
<line x1="658.08" y1="474.3" x2="658.08" y2="458.3" class="e"/>
<line x1="656.58" y1="458.3" x2="659.58" y2="458.3" class="c"/>
<rect x="656.59" y="474.98" width="2.96" height="20.63" fill="#b4b4b4" class="b"/>
<line x1="664.23" y1="477.6" x2="664.23" y2="463.4" class="e"/>
<line x1="662.73" y1="463.4" x2="665.73" y2="463.4" class="c"/>
<rect x="662.74" y="478.28" width="2.96" height="17.32" fill="#262626" class="b"/>
<line x1="670.38" y1="480.7" x2="670.38" y2="469.5" class="e"/>
<line x1="668.88" y1="469.5" x2="671.88" y2="469.5" class="c"/>
<rect x="668.89" y="481.38" width="2.96" height="14.23" fill="#666666" class="b"/>
<line x1="680.83" y1="435" x2="680.83" y2="371.7" class="e"/>
<line x1="679.33" y1="371.7" x2="682.33" y2="371.7" class="c"/>
<rect x="679.34" y="435.68" width="2.96" height="59.93" fill="#000000" class="b"/>
<line x1="686.98" y1="454" x2="686.98" y2="400" class="e"/>
<line x1="685.48" y1="400" x2="688.48" y2="400" class="c"/>
<rect x="685.49" y="454.68" width="2.96" height="40.93" fill="#7a7a7a" class="b"/>
<line x1="693.12" y1="457.4" x2="693.12" y2="416.9" class="e"/>
<line x1="691.62" y1="416.9" x2="694.62" y2="416.9" class="c"/>
<rect x="691.64" y="458.07" width="2.96" height="37.53" fill="#4e4e4e" class="b"/>
<line x1="699.28" y1="463.1" x2="699.28" y2="431.2" class="e"/>
<line x1="697.78" y1="431.2" x2="700.78" y2="431.2" class="c"/>
<rect x="697.79" y="463.78" width="2.96" height="31.82" fill="#b4b4b4" class="b"/>
<line x1="705.43" y1="470" x2="705.43" y2="447.1" class="e"/>
<line x1="703.93" y1="447.1" x2="706.93" y2="447.1" class="c"/>
<rect x="703.94" y="470.68" width="2.96" height="24.93" fill="#262626" class="b"/>
<line x1="711.58" y1="474.7" x2="711.58" y2="456" class="e"/>
<line x1="710.08" y1="456" x2="713.08" y2="456" class="c"/>
<rect x="710.09" y="475.38" width="2.96" height="20.23" fill="#666666" class="b"/>
<line x1="429.5" y1="314.3" x2="429.5" y2="496.3" class="a"/>
<line x1="428.8" y1="495.6" x2="716.4" y2="495.6" class="a"/>
<line x1="426.9" y1="486.57" x2="429.5" y2="486.57" class="t"/>
<line x1="426.9" y1="477.54" x2="429.5" y2="477.54" class="t"/>
<line x1="426.9" y1="468.51" x2="429.5" y2="468.51" class="t"/>
<line x1="426.9" y1="459.48" x2="429.5" y2="459.48" class="t"/>
<line x1="426.9" y1="450.45" x2="429.5" y2="450.45" class="t"/>
<line x1="426.9" y1="441.42" x2="429.5" y2="441.42" class="t"/>
<line x1="426.9" y1="432.39" x2="429.5" y2="432.39" class="t"/>
<line x1="426.9" y1="423.36" x2="429.5" y2="423.36" class="t"/>
<line x1="426.9" y1="414.33" x2="429.5" y2="414.33" class="t"/>
<line x1="426.9" y1="396.27" x2="429.5" y2="396.27" class="t"/>
<line x1="426.9" y1="387.24" x2="429.5" y2="387.24" class="t"/>
<line x1="426.9" y1="378.21" x2="429.5" y2="378.21" class="t"/>
<line x1="426.9" y1="369.18" x2="429.5" y2="369.18" class="t"/>
<line x1="426.9" y1="360.15" x2="429.5" y2="360.15" class="t"/>
<line x1="426.9" y1="351.12" x2="429.5" y2="351.12" class="t"/>
<line x1="426.9" y1="342.09" x2="429.5" y2="342.09" class="t"/>
<line x1="426.9" y1="333.06" x2="429.5" y2="333.06" class="t"/>
<line x1="426.9" y1="324.03" x2="429.5" y2="324.03" class="t"/>
<line x1="425.3" y1="495.6" x2="429.5" y2="495.6" class="t"/>
<line x1="425.3" y1="405.3" x2="429.5" y2="405.3" class="t"/>
<line x1="425.3" y1="315" x2="429.5" y2="315" class="t"/>
<text transform="translate(425.1 499.9) scale(1 1.12)" class="yl">0</text>
<text transform="translate(425.1 409.6) scale(1 1.12)" class="yl">50</text>
<text transform="translate(425.1 319.3) scale(1 1.12)" class="yl">100</text>
<line x1="449" y1="495.6" x2="449" y2="500" class="t"/>
<text transform="translate(452 507) rotate(-45) scale(1 1.05)" class="xl">North</text>
<line x1="490.2" y1="495.6" x2="490.2" y2="500" class="t"/>
<text transform="translate(493.2 507) rotate(-45) scale(1 1.05)" class="xl">Northeast</text>
<line x1="531.4" y1="495.6" x2="531.4" y2="500" class="t"/>
<text transform="translate(534.4 507) rotate(-45) scale(1 1.05)" class="xl">East</text>
<line x1="572.6" y1="495.6" x2="572.6" y2="500" class="t"/>
<text transform="translate(575.6 507) rotate(-45) scale(1 1.05)" class="xl">Central</text>
<line x1="613.8" y1="495.6" x2="613.8" y2="500" class="t"/>
<text transform="translate(616.8 507) rotate(-45) scale(1 1.05)" class="xl">South</text>
<line x1="655" y1="495.6" x2="655" y2="500" class="t"/>
<text transform="translate(658 507) rotate(-45) scale(1 1.05)" class="xl">Southwest</text>
<line x1="696.2" y1="495.6" x2="696.2" y2="500" class="t"/>
<text transform="translate(699.2 507) rotate(-45) scale(1 1.05)" class="xl">Northwest</text>
<text transform="translate(572.95 547.9) scale(1 1.06)" class="rg">Region</text>
<text transform="translate(572.95 311.4) scale(1 1.05)" class="ti"><tspan>SO</tspan><tspan dy="6.3" font-size="14.5">2</tspan></text>
<text transform="translate(405 402.5) rotate(-90)" class="yt"><tspan>SO</tspan><tspan dy="2.6" font-size="8">2</tspan><tspan dy="-2.6"> (µg/m</tspan><tspan dy="-4.6" font-size="8">3</tspan><tspan dy="4.6">)</tspan></text>
<rect x="638" y="321.3" width="8.4" height="4.2" fill="#000000" class="lb"/>
<text x="651.4" y="325.69" class="lg" font-size="6.4">2014</text>
<rect x="638" y="332.02" width="8.4" height="4.2" fill="#7a7a7a" class="lb"/>
<text x="651.4" y="336.41" class="lg" font-size="6.4">2015</text>
<rect x="638" y="342.74" width="8.4" height="4.2" fill="#4e4e4e" class="lb"/>
<text x="651.4" y="347.13" class="lg" font-size="6.4">2016</text>
<rect x="638" y="353.46" width="8.4" height="4.2" fill="#b4b4b4" class="lb"/>
<text x="651.4" y="357.85" class="lg" font-size="6.4">2017</text>
<rect x="638" y="364.18" width="8.4" height="4.2" fill="#262626" class="lb"/>
<text x="651.4" y="368.57" class="lg" font-size="6.4">2018</text>
<rect x="638" y="374.9" width="8.4" height="4.2" fill="#666666" class="lb"/>
<text x="651.4" y="379.29" class="lg" font-size="6.4">2019</text>
<line x1="47.75" y1="668.8" x2="47.75" y2="616.2" class="e"/>
<line x1="46.25" y1="616.2" x2="49.25" y2="616.2" class="c"/>
<rect x="46.23" y="669.47" width="3.04" height="98.03" fill="#000000" class="b"/>
<line x1="54.01" y1="689" x2="54.01" y2="640.9" class="e"/>
<line x1="52.51" y1="640.9" x2="55.51" y2="640.9" class="c"/>
<rect x="52.49" y="689.67" width="3.04" height="77.83" fill="#7a7a7a" class="b"/>
<line x1="60.27" y1="683.1" x2="60.27" y2="631.4" class="e"/>
<line x1="58.77" y1="631.4" x2="61.77" y2="631.4" class="c"/>
<rect x="58.75" y="683.77" width="3.04" height="83.72" fill="#4e4e4e" class="b"/>
<line x1="66.53" y1="682.2" x2="66.53" y2="636" class="e"/>
<line x1="65.03" y1="636" x2="68.03" y2="636" class="c"/>
<rect x="65.01" y="682.88" width="3.04" height="84.62" fill="#b4b4b4" class="b"/>
<line x1="72.79" y1="691.7" x2="72.79" y2="648.4" class="e"/>
<line x1="71.29" y1="648.4" x2="74.29" y2="648.4" class="c"/>
<rect x="71.27" y="692.38" width="3.04" height="75.12" fill="#262626" class="b"/>
<line x1="79.05" y1="690.3" x2="79.05" y2="647.8" class="e"/>
<line x1="77.55" y1="647.8" x2="80.55" y2="647.8" class="c"/>
<rect x="77.53" y="690.97" width="3.04" height="76.53" fill="#666666" class="b"/>
<line x1="89.52" y1="684.8" x2="89.52" y2="645.9" class="e"/>
<line x1="88.02" y1="645.9" x2="91.02" y2="645.9" class="c"/>
<rect x="88" y="685.47" width="3.04" height="82.03" fill="#000000" class="b"/>
<line x1="95.78" y1="703.3" x2="95.78" y2="664.8" class="e"/>
<line x1="94.28" y1="664.8" x2="97.28" y2="664.8" class="c"/>
<rect x="94.26" y="703.97" width="3.04" height="63.53" fill="#7a7a7a" class="b"/>
<line x1="102.04" y1="707.1" x2="102.04" y2="676.2" class="e"/>
<line x1="100.54" y1="676.2" x2="103.54" y2="676.2" class="c"/>
<rect x="100.52" y="707.77" width="3.04" height="59.72" fill="#4e4e4e" class="b"/>
<line x1="108.3" y1="707.2" x2="108.3" y2="674.5" class="e"/>
<line x1="106.8" y1="674.5" x2="109.8" y2="674.5" class="c"/>
<rect x="106.78" y="707.88" width="3.04" height="59.62" fill="#b4b4b4" class="b"/>
<line x1="114.56" y1="714" x2="114.56" y2="685.5" class="e"/>
<line x1="113.06" y1="685.5" x2="116.06" y2="685.5" class="c"/>
<rect x="113.04" y="714.67" width="3.04" height="52.83" fill="#262626" class="b"/>
<line x1="120.82" y1="714.1" x2="120.82" y2="683.8" class="e"/>
<line x1="119.32" y1="683.8" x2="122.32" y2="683.8" class="c"/>
<rect x="119.3" y="714.77" width="3.04" height="52.72" fill="#666666" class="b"/>
<line x1="131.29" y1="678.6" x2="131.29" y2="634" class="e"/>
<line x1="129.79" y1="634" x2="132.79" y2="634" class="c"/>
<rect x="129.77" y="679.27" width="3.04" height="88.22" fill="#000000" class="b"/>
<line x1="137.55" y1="693.8" x2="137.55" y2="652.9" class="e"/>
<line x1="136.05" y1="652.9" x2="139.05" y2="652.9" class="c"/>
<rect x="136.03" y="694.47" width="3.04" height="73.03" fill="#7a7a7a" class="b"/>
<line x1="143.81" y1="691.2" x2="143.81" y2="650.7" class="e"/>
<line x1="142.31" y1="650.7" x2="145.31" y2="650.7" class="c"/>
<rect x="142.29" y="691.88" width="3.04" height="75.62" fill="#4e4e4e" class="b"/>
<line x1="150.07" y1="691.2" x2="150.07" y2="650.3" class="e"/>
<line x1="148.57" y1="650.3" x2="151.57" y2="650.3" class="c"/>
<rect x="148.55" y="691.88" width="3.04" height="75.62" fill="#b4b4b4" class="b"/>
<line x1="156.33" y1="698.3" x2="156.33" y2="659.7" class="e"/>
<line x1="154.83" y1="659.7" x2="157.83" y2="659.7" class="c"/>
<rect x="154.81" y="698.97" width="3.04" height="68.53" fill="#262626" class="b"/>
<line x1="162.59" y1="697.2" x2="162.59" y2="659.8" class="e"/>
<line x1="161.09" y1="659.8" x2="164.09" y2="659.8" class="c"/>
<rect x="161.07" y="697.88" width="3.04" height="69.62" fill="#666666" class="b"/>
<line x1="173.06" y1="681.2" x2="173.06" y2="639" class="e"/>
<line x1="171.56" y1="639" x2="174.56" y2="639" class="c"/>
<rect x="171.54" y="681.88" width="3.04" height="85.62" fill="#000000" class="b"/>
<line x1="179.32" y1="695" x2="179.32" y2="652.8" class="e"/>
<line x1="177.82" y1="652.8" x2="180.82" y2="652.8" class="c"/>
<rect x="177.8" y="695.67" width="3.04" height="71.83" fill="#7a7a7a" class="b"/>
<line x1="185.58" y1="694.1" x2="185.58" y2="652.8" class="e"/>
<line x1="184.08" y1="652.8" x2="187.08" y2="652.8" class="c"/>
<rect x="184.06" y="694.77" width="3.04" height="72.72" fill="#4e4e4e" class="b"/>
<line x1="191.84" y1="695" x2="191.84" y2="654.5" class="e"/>
<line x1="190.34" y1="654.5" x2="193.34" y2="654.5" class="c"/>
<rect x="190.32" y="695.67" width="3.04" height="71.83" fill="#b4b4b4" class="b"/>
<line x1="198.1" y1="700.7" x2="198.1" y2="664.8" class="e"/>
<line x1="196.6" y1="664.8" x2="199.6" y2="664.8" class="c"/>
<rect x="196.58" y="701.38" width="3.04" height="66.12" fill="#262626" class="b"/>
<line x1="204.36" y1="700.2" x2="204.36" y2="665.3" class="e"/>
<line x1="202.86" y1="665.3" x2="205.86" y2="665.3" class="c"/>
<rect x="202.84" y="700.88" width="3.04" height="66.62" fill="#666666" class="b"/>
<line x1="214.83" y1="707.2" x2="214.83" y2="669.3" class="e"/>
<line x1="213.33" y1="669.3" x2="216.33" y2="669.3" class="c"/>
<rect x="213.31" y="707.88" width="3.04" height="59.62" fill="#000000" class="b"/>
<line x1="221.09" y1="717.1" x2="221.09" y2="685.5" class="e"/>
<line x1="219.59" y1="685.5" x2="222.59" y2="685.5" class="c"/>
<rect x="219.57" y="717.77" width="3.04" height="49.72" fill="#7a7a7a" class="b"/>
<line x1="227.35" y1="714.1" x2="227.35" y2="681.4" class="e"/>
<line x1="225.85" y1="681.4" x2="228.85" y2="681.4" class="c"/>
<rect x="225.83" y="714.77" width="3.04" height="52.72" fill="#4e4e4e" class="b"/>
<line x1="233.61" y1="712.2" x2="233.61" y2="677.8" class="e"/>
<line x1="232.11" y1="677.8" x2="235.11" y2="677.8" class="c"/>
<rect x="232.09" y="712.88" width="3.04" height="54.62" fill="#b4b4b4" class="b"/>
<line x1="239.87" y1="715.7" x2="239.87" y2="683.8" class="e"/>
<line x1="238.37" y1="683.8" x2="241.37" y2="683.8" class="c"/>
<rect x="238.35" y="716.38" width="3.04" height="51.12" fill="#262626" class="b"/>
<line x1="246.13" y1="715.3" x2="246.13" y2="682.6" class="e"/>
<line x1="244.63" y1="682.6" x2="247.63" y2="682.6" class="c"/>
<rect x="244.61" y="715.97" width="3.04" height="51.53" fill="#666666" class="b"/>
<line x1="256.6" y1="696.9" x2="256.6" y2="664.8" class="e"/>
<line x1="255.1" y1="664.8" x2="258.1" y2="664.8" class="c"/>
<rect x="255.08" y="697.57" width="3.04" height="69.93" fill="#000000" class="b"/>
<line x1="262.86" y1="719.1" x2="262.86" y2="691.6" class="e"/>
<line x1="261.36" y1="691.6" x2="264.36" y2="691.6" class="c"/>
<rect x="261.34" y="719.77" width="3.04" height="47.72" fill="#7a7a7a" class="b"/>
<line x1="269.12" y1="716.2" x2="269.12" y2="686" class="e"/>
<line x1="267.62" y1="686" x2="270.62" y2="686" class="c"/>
<rect x="267.6" y="716.88" width="3.04" height="50.62" fill="#4e4e4e" class="b"/>
<line x1="275.38" y1="715.7" x2="275.38" y2="687.2" class="e"/>
<line x1="273.88" y1="687.2" x2="276.88" y2="687.2" class="c"/>
<rect x="273.86" y="716.38" width="3.04" height="51.12" fill="#b4b4b4" class="b"/>
<line x1="281.64" y1="720.2" x2="281.64" y2="692.6" class="e"/>
<line x1="280.14" y1="692.6" x2="283.14" y2="692.6" class="c"/>
<rect x="280.12" y="720.88" width="3.04" height="46.62" fill="#262626" class="b"/>
<line x1="287.9" y1="721.4" x2="287.9" y2="694.3" class="e"/>
<line x1="286.4" y1="694.3" x2="289.4" y2="694.3" class="c"/>
<rect x="286.38" y="722.07" width="3.04" height="45.43" fill="#666666" class="b"/>
<line x1="298.37" y1="686.4" x2="298.37" y2="650.2" class="e"/>
<line x1="296.87" y1="650.2" x2="299.87" y2="650.2" class="c"/>
<rect x="296.85" y="687.07" width="3.04" height="80.43" fill="#000000" class="b"/>
<line x1="304.63" y1="706.4" x2="304.63" y2="668.4" class="e"/>
<line x1="303.13" y1="668.4" x2="306.13" y2="668.4" class="c"/>
<rect x="303.11" y="707.07" width="3.04" height="60.43" fill="#7a7a7a" class="b"/>
<line x1="310.89" y1="702.1" x2="310.89" y2="660.5" class="e"/>
<line x1="309.39" y1="660.5" x2="312.39" y2="660.5" class="c"/>
<rect x="309.37" y="702.77" width="3.04" height="64.72" fill="#4e4e4e" class="b"/>
<line x1="317.15" y1="700.7" x2="317.15" y2="660.7" class="e"/>
<line x1="315.65" y1="660.7" x2="318.65" y2="660.7" class="c"/>
<rect x="315.63" y="701.38" width="3.04" height="66.12" fill="#b4b4b4" class="b"/>
<line x1="323.41" y1="707.9" x2="323.41" y2="671.4" class="e"/>
<line x1="321.91" y1="671.4" x2="324.91" y2="671.4" class="c"/>
<rect x="321.89" y="708.57" width="3.04" height="58.93" fill="#262626" class="b"/>
<line x1="329.67" y1="705.3" x2="329.67" y2="669.7" class="e"/>
<line x1="328.17" y1="669.7" x2="331.17" y2="669.7" class="c"/>
<rect x="328.15" y="705.97" width="3.04" height="61.53" fill="#666666" class="b"/>
<line x1="43.5" y1="582.9" x2="43.5" y2="768.2" class="a"/>
<line x1="42.8" y1="767.5" x2="334.1" y2="767.5" class="a"/>
<line x1="40.9" y1="762.9" x2="43.5" y2="762.9" class="t"/>
<line x1="40.9" y1="758.3" x2="43.5" y2="758.3" class="t"/>
<line x1="40.9" y1="753.71" x2="43.5" y2="753.71" class="t"/>
<line x1="40.9" y1="749.11" x2="43.5" y2="749.11" class="t"/>
<line x1="40.9" y1="744.51" x2="43.5" y2="744.51" class="t"/>
<line x1="40.9" y1="739.91" x2="43.5" y2="739.91" class="t"/>
<line x1="40.9" y1="735.32" x2="43.5" y2="735.32" class="t"/>
<line x1="40.9" y1="730.72" x2="43.5" y2="730.72" class="t"/>
<line x1="40.9" y1="726.12" x2="43.5" y2="726.12" class="t"/>
<line x1="40.9" y1="716.93" x2="43.5" y2="716.93" class="t"/>
<line x1="40.9" y1="712.33" x2="43.5" y2="712.33" class="t"/>
<line x1="40.9" y1="707.73" x2="43.5" y2="707.73" class="t"/>
<line x1="40.9" y1="703.13" x2="43.5" y2="703.13" class="t"/>
<line x1="40.9" y1="698.54" x2="43.5" y2="698.54" class="t"/>
<line x1="40.9" y1="693.94" x2="43.5" y2="693.94" class="t"/>
<line x1="40.9" y1="689.34" x2="43.5" y2="689.34" class="t"/>
<line x1="40.9" y1="684.75" x2="43.5" y2="684.75" class="t"/>
<line x1="40.9" y1="680.15" x2="43.5" y2="680.15" class="t"/>
<line x1="40.9" y1="670.95" x2="43.5" y2="670.95" class="t"/>
<line x1="40.9" y1="666.36" x2="43.5" y2="666.36" class="t"/>
<line x1="40.9" y1="661.76" x2="43.5" y2="661.76" class="t"/>
<line x1="40.9" y1="657.16" x2="43.5" y2="657.16" class="t"/>
<line x1="40.9" y1="652.56" x2="43.5" y2="652.56" class="t"/>
<line x1="40.9" y1="647.97" x2="43.5" y2="647.97" class="t"/>
<line x1="40.9" y1="643.37" x2="43.5" y2="643.37" class="t"/>
<line x1="40.9" y1="638.77" x2="43.5" y2="638.77" class="t"/>
<line x1="40.9" y1="634.17" x2="43.5" y2="634.17" class="t"/>
<line x1="40.9" y1="624.98" x2="43.5" y2="624.98" class="t"/>
<line x1="40.9" y1="620.38" x2="43.5" y2="620.38" class="t"/>
<line x1="40.9" y1="615.78" x2="43.5" y2="615.78" class="t"/>
<line x1="40.9" y1="611.19" x2="43.5" y2="611.19" class="t"/>
<line x1="40.9" y1="606.59" x2="43.5" y2="606.59" class="t"/>
<line x1="40.9" y1="601.99" x2="43.5" y2="601.99" class="t"/>
<line x1="40.9" y1="597.39" x2="43.5" y2="597.39" class="t"/>
<line x1="40.9" y1="592.8" x2="43.5" y2="592.8" class="t"/>
<line x1="40.9" y1="588.2" x2="43.5" y2="588.2" class="t"/>
<line x1="39.3" y1="767.5" x2="43.5" y2="767.5" class="t"/>
<line x1="39.3" y1="721.52" x2="43.5" y2="721.52" class="t"/>
<line x1="39.3" y1="675.55" x2="43.5" y2="675.55" class="t"/>
<line x1="39.3" y1="629.58" x2="43.5" y2="629.58" class="t"/>
<line x1="39.3" y1="583.6" x2="43.5" y2="583.6" class="t"/>
<text transform="translate(39.1 771.8) scale(1 1.12)" class="yl">0</text>
<text transform="translate(39.1 725.82) scale(1 1.12)" class="yl">20</text>
<text transform="translate(39.1 679.85) scale(1 1.12)" class="yl">40</text>
<text transform="translate(39.1 633.88) scale(1 1.12)" class="yl">60</text>
<text transform="translate(39.1 587.9) scale(1 1.12)" class="yl">80</text>
<line x1="63.4" y1="767.5" x2="63.4" y2="771.9" class="t"/>
<text transform="translate(66.4 778.9) rotate(-45) scale(1 1.05)" class="xl">North</text>
<line x1="105.17" y1="767.5" x2="105.17" y2="771.9" class="t"/>
<text transform="translate(108.17 778.9) rotate(-45) scale(1 1.05)" class="xl">Northeast</text>
<line x1="146.94" y1="767.5" x2="146.94" y2="771.9" class="t"/>
<text transform="translate(149.94 778.9) rotate(-45) scale(1 1.05)" class="xl">East</text>
<line x1="188.71" y1="767.5" x2="188.71" y2="771.9" class="t"/>
<text transform="translate(191.71 778.9) rotate(-45) scale(1 1.05)" class="xl">Central</text>
<line x1="230.48" y1="767.5" x2="230.48" y2="771.9" class="t"/>
<text transform="translate(233.48 778.9) rotate(-45) scale(1 1.05)" class="xl">South</text>
<line x1="272.25" y1="767.5" x2="272.25" y2="771.9" class="t"/>
<text transform="translate(275.25 778.9) rotate(-45) scale(1 1.05)" class="xl">Southwest</text>
<line x1="314.02" y1="767.5" x2="314.02" y2="771.9" class="t"/>
<text transform="translate(317.02 778.9) rotate(-45) scale(1 1.05)" class="xl">Northwest</text>
<text transform="translate(188.8 819.9) scale(1 1.06)" class="rg">Region</text>
<text transform="translate(188.8 580.9) scale(1 1.05)" class="ti"><tspan>NO</tspan><tspan dy="6.3" font-size="14.5">2</tspan></text>
<text transform="translate(19.5 672.5) rotate(-90)" class="yt"><tspan>NO</tspan><tspan dy="2.6" font-size="8">2</tspan><tspan dy="-2.6"> (µg/m</tspan><tspan dy="-4.6" font-size="8">3</tspan><tspan dy="4.6">)</tspan></text>
<rect x="261.1" y="590.3" width="8.4" height="4.4" fill="#000000" class="lb"/>
<text x="274.5" y="594.79" class="lg" font-size="6.4">2014</text>
<rect x="261.1" y="601.22" width="8.4" height="4.4" fill="#7a7a7a" class="lb"/>
<text x="274.5" y="605.71" class="lg" font-size="6.4">2015</text>
<rect x="261.1" y="612.14" width="8.4" height="4.4" fill="#4e4e4e" class="lb"/>
<text x="274.5" y="616.63" class="lg" font-size="6.4">2016</text>
<rect x="261.1" y="623.06" width="8.4" height="4.4" fill="#b4b4b4" class="lb"/>
<text x="274.5" y="627.55" class="lg" font-size="6.4">2017</text>
<rect x="261.1" y="633.98" width="8.4" height="4.4" fill="#262626" class="lb"/>
<text x="274.5" y="638.47" class="lg" font-size="6.4">2018</text>
<rect x="261.1" y="644.9" width="8.4" height="4.4" fill="#666666" class="lb"/>
<text x="274.5" y="649.39" class="lg" font-size="6.4">2019</text>
<line x1="439.05" y1="673.1" x2="439.05" y2="608.1" class="e"/>
<line x1="437.55" y1="608.1" x2="440.55" y2="608.1" class="c"/>
<rect x="437.52" y="673.77" width="3.07" height="94.52" fill="#000000" class="b"/>
<line x1="445.35" y1="683.1" x2="445.35" y2="620.5" class="e"/>
<line x1="443.85" y1="620.5" x2="446.85" y2="620.5" class="c"/>
<rect x="443.82" y="683.77" width="3.07" height="84.52" fill="#7a7a7a" class="b"/>
<line x1="451.65" y1="684" x2="451.65" y2="621.4" class="e"/>
<line x1="450.15" y1="621.4" x2="453.15" y2="621.4" class="c"/>
<rect x="450.12" y="684.67" width="3.07" height="83.62" fill="#4e4e4e" class="b"/>
<line x1="457.95" y1="692.9" x2="457.95" y2="640.9" class="e"/>
<line x1="456.45" y1="640.9" x2="459.45" y2="640.9" class="c"/>
<rect x="456.42" y="693.57" width="3.07" height="74.72" fill="#b4b4b4" class="b"/>
<line x1="464.25" y1="706.2" x2="464.25" y2="668.8" class="e"/>
<line x1="462.75" y1="668.8" x2="465.75" y2="668.8" class="c"/>
<rect x="462.72" y="706.88" width="3.07" height="61.42" fill="#262626" class="b"/>
<line x1="470.55" y1="710.5" x2="470.55" y2="674.8" class="e"/>
<line x1="469.05" y1="674.8" x2="472.05" y2="674.8" class="c"/>
<rect x="469.02" y="711.17" width="3.07" height="57.12" fill="#666666" class="b"/>
<line x1="481.15" y1="692.9" x2="481.15" y2="648.4" class="e"/>
<line x1="479.65" y1="648.4" x2="482.65" y2="648.4" class="c"/>
<rect x="479.62" y="693.57" width="3.07" height="74.72" fill="#000000" class="b"/>
<line x1="487.45" y1="706.2" x2="487.45" y2="667.1" class="e"/>
<line x1="485.95" y1="667.1" x2="488.95" y2="667.1" class="c"/>
<rect x="485.92" y="706.88" width="3.07" height="61.42" fill="#7a7a7a" class="b"/>
<line x1="493.75" y1="707.2" x2="493.75" y2="675.3" class="e"/>
<line x1="492.25" y1="675.3" x2="495.25" y2="675.3" class="c"/>
<rect x="492.22" y="707.88" width="3.07" height="60.42" fill="#4e4e4e" class="b"/>
<line x1="500.05" y1="714" x2="500.05" y2="685.2" class="e"/>
<line x1="498.55" y1="685.2" x2="501.55" y2="685.2" class="c"/>
<rect x="498.52" y="714.67" width="3.07" height="53.62" fill="#b4b4b4" class="b"/>
<line x1="506.35" y1="720.2" x2="506.35" y2="697.2" class="e"/>
<line x1="504.85" y1="697.2" x2="507.85" y2="697.2" class="c"/>
<rect x="504.82" y="720.88" width="3.07" height="47.42" fill="#262626" class="b"/>
<line x1="512.65" y1="721.9" x2="512.65" y2="696.7" class="e"/>
<line x1="511.15" y1="696.7" x2="514.15" y2="696.7" class="c"/>
<rect x="511.12" y="722.57" width="3.07" height="45.72" fill="#666666" class="b"/>
<line x1="523.25" y1="701" x2="523.25" y2="666.2" class="e"/>
<line x1="521.75" y1="666.2" x2="524.75" y2="666.2" class="c"/>
<rect x="521.72" y="701.67" width="3.07" height="66.62" fill="#000000" class="b"/>
<line x1="529.55" y1="704.1" x2="529.55" y2="671.4" class="e"/>
<line x1="528.05" y1="671.4" x2="531.05" y2="671.4" class="c"/>
<rect x="528.02" y="704.77" width="3.07" height="63.52" fill="#7a7a7a" class="b"/>
<line x1="535.85" y1="707.1" x2="535.85" y2="677.9" class="e"/>
<line x1="534.35" y1="677.9" x2="537.35" y2="677.9" class="c"/>
<rect x="534.32" y="707.77" width="3.07" height="60.52" fill="#4e4e4e" class="b"/>
<line x1="542.15" y1="712.4" x2="542.15" y2="689.1" class="e"/>
<line x1="540.65" y1="689.1" x2="543.65" y2="689.1" class="c"/>
<rect x="540.62" y="713.07" width="3.07" height="55.22" fill="#b4b4b4" class="b"/>
<line x1="548.45" y1="718.4" x2="548.45" y2="698.6" class="e"/>
<line x1="546.95" y1="698.6" x2="549.95" y2="698.6" class="c"/>
<rect x="546.92" y="719.07" width="3.07" height="49.22" fill="#262626" class="b"/>
<line x1="554.75" y1="721" x2="554.75" y2="702.4" class="e"/>
<line x1="553.25" y1="702.4" x2="556.25" y2="702.4" class="c"/>
<rect x="553.22" y="721.67" width="3.07" height="46.62" fill="#666666" class="b"/>
<line x1="565.35" y1="681.7" x2="565.35" y2="645" class="e"/>
<line x1="563.85" y1="645" x2="566.85" y2="645" class="c"/>
<rect x="563.82" y="682.38" width="3.07" height="85.92" fill="#000000" class="b"/>
<line x1="571.65" y1="689.8" x2="571.65" y2="648.4" class="e"/>
<line x1="570.15" y1="648.4" x2="573.15" y2="648.4" class="c"/>
<rect x="570.12" y="690.47" width="3.07" height="77.83" fill="#7a7a7a" class="b"/>
<line x1="577.95" y1="691.7" x2="577.95" y2="651.2" class="e"/>
<line x1="576.45" y1="651.2" x2="579.45" y2="651.2" class="c"/>
<rect x="576.42" y="692.38" width="3.07" height="75.92" fill="#4e4e4e" class="b"/>
<line x1="584.25" y1="697.2" x2="584.25" y2="664.5" class="e"/>
<line x1="582.75" y1="664.5" x2="585.75" y2="664.5" class="c"/>
<rect x="582.72" y="697.88" width="3.07" height="70.42" fill="#b4b4b4" class="b"/>
<line x1="590.55" y1="705.9" x2="590.55" y2="683.1" class="e"/>
<line x1="589.05" y1="683.1" x2="592.05" y2="683.1" class="c"/>
<rect x="589.02" y="706.57" width="3.07" height="61.72" fill="#262626" class="b"/>
<line x1="596.85" y1="712.2" x2="596.85" y2="690.9" class="e"/>
<line x1="595.35" y1="690.9" x2="598.35" y2="690.9" class="c"/>
<rect x="595.32" y="712.88" width="3.07" height="55.42" fill="#666666" class="b"/>
<line x1="607.45" y1="702.1" x2="607.45" y2="677.9" class="e"/>
<line x1="605.95" y1="677.9" x2="608.95" y2="677.9" class="c"/>
<rect x="605.92" y="702.77" width="3.07" height="65.52" fill="#000000" class="b"/>
<line x1="613.75" y1="708.1" x2="613.75" y2="687.2" class="e"/>
<line x1="612.25" y1="687.2" x2="615.25" y2="687.2" class="c"/>
<rect x="612.22" y="708.77" width="3.07" height="59.52" fill="#7a7a7a" class="b"/>
<line x1="620.05" y1="712.4" x2="620.05" y2="695.5" class="e"/>
<line x1="618.55" y1="695.5" x2="621.55" y2="695.5" class="c"/>
<rect x="618.52" y="713.07" width="3.07" height="55.22" fill="#4e4e4e" class="b"/>
<line x1="626.35" y1="714.1" x2="626.35" y2="700.2" class="e"/>
<line x1="624.85" y1="700.2" x2="627.85" y2="700.2" class="c"/>
<rect x="624.82" y="714.77" width="3.07" height="53.52" fill="#b4b4b4" class="b"/>
<line x1="632.65" y1="717.9" x2="632.65" y2="704.5" class="e"/>
<line x1="631.15" y1="704.5" x2="634.15" y2="704.5" class="c"/>
<rect x="631.12" y="718.57" width="3.07" height="49.72" fill="#262626" class="b"/>
<line x1="638.95" y1="717.9" x2="638.95" y2="703.8" class="e"/>
<line x1="637.45" y1="703.8" x2="640.45" y2="703.8" class="c"/>
<rect x="637.42" y="718.57" width="3.07" height="49.72" fill="#666666" class="b"/>
<line x1="649.55" y1="702.1" x2="649.55" y2="669.3" class="e"/>
<line x1="648.05" y1="669.3" x2="651.05" y2="669.3" class="c"/>
<rect x="648.02" y="702.77" width="3.07" height="65.52" fill="#000000" class="b"/>
<line x1="655.85" y1="714.1" x2="655.85" y2="682.9" class="e"/>
<line x1="654.35" y1="682.9" x2="657.35" y2="682.9" class="c"/>
<rect x="654.32" y="714.77" width="3.07" height="53.52" fill="#7a7a7a" class="b"/>
<line x1="662.15" y1="715.7" x2="662.15" y2="691.2" class="e"/>
<line x1="660.65" y1="691.2" x2="663.65" y2="691.2" class="c"/>
<rect x="660.62" y="716.38" width="3.07" height="51.92" fill="#4e4e4e" class="b"/>
<line x1="668.45" y1="718.4" x2="668.45" y2="698.4" class="e"/>
<line x1="666.95" y1="698.4" x2="669.95" y2="698.4" class="c"/>
<rect x="666.92" y="719.07" width="3.07" height="49.22" fill="#b4b4b4" class="b"/>
<line x1="674.75" y1="722.8" x2="674.75" y2="705" class="e"/>
<line x1="673.25" y1="705" x2="676.25" y2="705" class="c"/>
<rect x="673.22" y="723.47" width="3.07" height="44.83" fill="#262626" class="b"/>
<line x1="681.05" y1="726" x2="681.05" y2="709.7" class="e"/>
<line x1="679.55" y1="709.7" x2="682.55" y2="709.7" class="c"/>
<rect x="679.52" y="726.67" width="3.07" height="41.62" fill="#666666" class="b"/>
<line x1="691.65" y1="684" x2="691.65" y2="639.5" class="e"/>
<line x1="690.15" y1="639.5" x2="693.15" y2="639.5" class="c"/>
<rect x="690.12" y="684.67" width="3.07" height="83.62" fill="#000000" class="b"/>
<line x1="697.95" y1="698.1" x2="697.95" y2="650.2" class="e"/>
<line x1="696.45" y1="650.2" x2="699.45" y2="650.2" class="c"/>
<rect x="696.42" y="698.77" width="3.07" height="69.52" fill="#7a7a7a" class="b"/>
<line x1="704.25" y1="697.2" x2="704.25" y2="652.1" class="e"/>
<line x1="702.75" y1="652.1" x2="705.75" y2="652.1" class="c"/>
<rect x="702.72" y="697.88" width="3.07" height="70.42" fill="#4e4e4e" class="b"/>
<line x1="710.55" y1="703.8" x2="710.55" y2="662.4" class="e"/>
<line x1="709.05" y1="662.4" x2="712.05" y2="662.4" class="c"/>
<rect x="709.02" y="704.47" width="3.07" height="63.83" fill="#b4b4b4" class="b"/>
<line x1="716.85" y1="714" x2="716.85" y2="679.5" class="e"/>
<line x1="715.35" y1="679.5" x2="718.35" y2="679.5" class="c"/>
<rect x="715.32" y="714.67" width="3.07" height="53.62" fill="#262626" class="b"/>
<line x1="723.15" y1="718.4" x2="723.15" y2="689.1" class="e"/>
<line x1="721.65" y1="689.1" x2="724.65" y2="689.1" class="c"/>
<rect x="721.62" y="719.07" width="3.07" height="49.22" fill="#666666" class="b"/>
<line x1="435.1" y1="582.4" x2="435.1" y2="769" class="a"/>
<line x1="434.4" y1="768.3" x2="730" y2="768.3" class="a"/>
<line x1="430.9" y1="768.3" x2="435.1" y2="768.3" class="t"/>
<line x1="430.9" y1="706.57" x2="435.1" y2="706.57" class="t"/>
<line x1="430.9" y1="644.83" x2="435.1" y2="644.83" class="t"/>
<line x1="430.9" y1="583.1" x2="435.1" y2="583.1" class="t"/>
<text transform="translate(430.7 772.6) scale(1 1.12)" class="yl">0</text>
<text transform="translate(430.7 710.87) scale(1 1.12)" class="yl">1</text>
<text transform="translate(430.7 649.13) scale(1 1.12)" class="yl">2</text>
<text transform="translate(430.7 587.4) scale(1 1.12)" class="yl">3</text>
<line x1="454.8" y1="768.3" x2="454.8" y2="772.7" class="t"/>
<text transform="translate(457.8 779.7) rotate(-45) scale(1 1.05)" class="xl">North</text>
<line x1="496.9" y1="768.3" x2="496.9" y2="772.7" class="t"/>
<text transform="translate(499.9 779.7) rotate(-45) scale(1 1.05)" class="xl">Northeast</text>
<line x1="539" y1="768.3" x2="539" y2="772.7" class="t"/>
<text transform="translate(542 779.7) rotate(-45) scale(1 1.05)" class="xl">East</text>
<line x1="581.1" y1="768.3" x2="581.1" y2="772.7" class="t"/>
<text transform="translate(584.1 779.7) rotate(-45) scale(1 1.05)" class="xl">Central</text>
<line x1="623.2" y1="768.3" x2="623.2" y2="772.7" class="t"/>
<text transform="translate(626.2 779.7) rotate(-45) scale(1 1.05)" class="xl">South</text>
<line x1="665.3" y1="768.3" x2="665.3" y2="772.7" class="t"/>
<text transform="translate(668.3 779.7) rotate(-45) scale(1 1.05)" class="xl">Southwest</text>
<line x1="707.4" y1="768.3" x2="707.4" y2="772.7" class="t"/>
<text transform="translate(710.4 779.7) rotate(-45) scale(1 1.05)" class="xl">Northwest</text>
<text transform="translate(581.8 819.9) scale(1 1.06)" class="rg">Region</text>
<text transform="translate(581.8 579.2) scale(1 1.05)" class="ti"><tspan>CO</tspan></text>
<text transform="translate(415 673) rotate(-90)" class="yt"><tspan>CO (mg/m</tspan><tspan dy="-4.6" font-size="8">3</tspan><tspan dy="4.6">)</tspan></text>
<rect x="654.9" y="590" width="8.4" height="4.2" fill="#000000" class="lb"/>
<text x="668.3" y="594.36" class="lg" font-size="6.3">2014</text>
<rect x="654.9" y="600.98" width="8.4" height="4.2" fill="#7a7a7a" class="lb"/>
<text x="668.3" y="605.34" class="lg" font-size="6.3">2015</text>
<rect x="654.9" y="611.96" width="8.4" height="4.2" fill="#4e4e4e" class="lb"/>
<text x="668.3" y="616.32" class="lg" font-size="6.3">2016</text>
<rect x="654.9" y="622.94" width="8.4" height="4.2" fill="#b4b4b4" class="lb"/>
<text x="668.3" y="627.3" class="lg" font-size="6.3">2017</text>
<rect x="654.9" y="633.92" width="8.4" height="4.2" fill="#262626" class="lb"/>
<text x="668.3" y="638.28" class="lg" font-size="6.3">2018</text>
<rect x="654.9" y="644.9" width="8.4" height="4.2" fill="#666666" class="lb"/>
<text x="668.3" y="649.26" class="lg" font-size="6.3">2019</text>
<line x1="38.85" y1="971.5" x2="38.85" y2="925" class="e"/>
<line x1="37.35" y1="925" x2="40.35" y2="925" class="c"/>
<rect x="37.3" y="972.17" width="3.09" height="74.92" fill="#000000" class="b"/>
<line x1="45.19" y1="964.7" x2="45.19" y2="916.3" class="e"/>
<line x1="43.69" y1="916.3" x2="46.69" y2="916.3" class="c"/>
<rect x="43.64" y="965.38" width="3.09" height="81.72" fill="#7a7a7a" class="b"/>
<line x1="51.53" y1="962.1" x2="51.53" y2="914.6" class="e"/>
<line x1="50.03" y1="914.6" x2="53.03" y2="914.6" class="c"/>
<rect x="49.98" y="962.77" width="3.09" height="84.32" fill="#4e4e4e" class="b"/>
<line x1="57.87" y1="948.2" x2="57.87" y2="894.6" class="e"/>
<line x1="56.37" y1="894.6" x2="59.37" y2="894.6" class="c"/>
<rect x="56.32" y="948.88" width="3.09" height="98.22" fill="#b4b4b4" class="b"/>
<line x1="64.21" y1="944.2" x2="64.21" y2="889.7" class="e"/>
<line x1="62.71" y1="889.7" x2="65.71" y2="889.7" class="c"/>
<rect x="62.66" y="944.88" width="3.09" height="102.22" fill="#262626" class="b"/>
<line x1="70.55" y1="953.2" x2="70.55" y2="900.3" class="e"/>
<line x1="69.05" y1="900.3" x2="72.05" y2="900.3" class="c"/>
<rect x="69" y="953.88" width="3.09" height="93.22" fill="#666666" class="b"/>
<line x1="80.9" y1="967.2" x2="80.9" y2="926.8" class="e"/>
<line x1="79.4" y1="926.8" x2="82.4" y2="926.8" class="c"/>
<rect x="79.35" y="967.88" width="3.09" height="79.22" fill="#000000" class="b"/>
<line x1="87.24" y1="965.4" x2="87.24" y2="922.9" class="e"/>
<line x1="85.74" y1="922.9" x2="88.74" y2="922.9" class="c"/>
<rect x="85.69" y="966.07" width="3.09" height="81.02" fill="#7a7a7a" class="b"/>
<line x1="93.58" y1="963.3" x2="93.58" y2="920.3" class="e"/>
<line x1="92.08" y1="920.3" x2="95.08" y2="920.3" class="c"/>
<rect x="92.03" y="963.97" width="3.09" height="83.12" fill="#4e4e4e" class="b"/>
<line x1="99.92" y1="956.4" x2="99.92" y2="912" class="e"/>
<line x1="98.42" y1="912" x2="101.42" y2="912" class="c"/>
<rect x="98.37" y="957.07" width="3.09" height="90.02" fill="#b4b4b4" class="b"/>
<line x1="106.26" y1="956.4" x2="106.26" y2="910.2" class="e"/>
<line x1="104.76" y1="910.2" x2="107.76" y2="910.2" class="c"/>
<rect x="104.71" y="957.07" width="3.09" height="90.02" fill="#262626" class="b"/>
<line x1="112.6" y1="963.8" x2="112.6" y2="922.1" class="e"/>
<line x1="111.1" y1="922.1" x2="114.1" y2="922.1" class="c"/>
<rect x="111.05" y="964.47" width="3.09" height="82.62" fill="#666666" class="b"/>
<line x1="122.95" y1="961.2" x2="122.95" y2="916.3" class="e"/>
<line x1="121.45" y1="916.3" x2="124.45" y2="916.3" class="c"/>
<rect x="121.4" y="961.88" width="3.09" height="85.22" fill="#000000" class="b"/>
<line x1="129.29" y1="964.7" x2="129.29" y2="921.9" class="e"/>
<line x1="127.79" y1="921.9" x2="130.79" y2="921.9" class="c"/>
<rect x="127.74" y="965.38" width="3.09" height="81.72" fill="#7a7a7a" class="b"/>
<line x1="135.63" y1="961.6" x2="135.63" y2="918.9" class="e"/>
<line x1="134.13" y1="918.9" x2="137.13" y2="918.9" class="c"/>
<rect x="134.08" y="962.27" width="3.09" height="84.82" fill="#4e4e4e" class="b"/>
<line x1="141.97" y1="948.9" x2="141.97" y2="902.4" class="e"/>
<line x1="140.47" y1="902.4" x2="143.47" y2="902.4" class="c"/>
<rect x="140.42" y="949.57" width="3.09" height="97.52" fill="#b4b4b4" class="b"/>
<line x1="148.31" y1="948.2" x2="148.31" y2="899.4" class="e"/>
<line x1="146.81" y1="899.4" x2="149.81" y2="899.4" class="c"/>
<rect x="146.76" y="948.88" width="3.09" height="98.22" fill="#262626" class="b"/>
<line x1="154.65" y1="952.5" x2="154.65" y2="905.4" class="e"/>
<line x1="153.15" y1="905.4" x2="156.15" y2="905.4" class="c"/>
<rect x="153.1" y="953.17" width="3.09" height="93.92" fill="#666666" class="b"/>
<line x1="165" y1="977.8" x2="165" y2="937.6" class="e"/>
<line x1="163.5" y1="937.6" x2="166.5" y2="937.6" class="c"/>
<rect x="163.45" y="978.47" width="3.09" height="68.62" fill="#000000" class="b"/>
<line x1="171.34" y1="967.2" x2="171.34" y2="925.5" class="e"/>
<line x1="169.84" y1="925.5" x2="172.84" y2="925.5" class="c"/>
<rect x="169.79" y="967.88" width="3.09" height="79.22" fill="#7a7a7a" class="b"/>
<line x1="177.68" y1="963.3" x2="177.68" y2="918.9" class="e"/>
<line x1="176.18" y1="918.9" x2="179.18" y2="918.9" class="c"/>
<rect x="176.13" y="963.97" width="3.09" height="83.12" fill="#4e4e4e" class="b"/>
<line x1="184.02" y1="957.2" x2="184.02" y2="911.1" class="e"/>
<line x1="182.52" y1="911.1" x2="185.52" y2="911.1" class="c"/>
<rect x="182.47" y="957.88" width="3.09" height="89.22" fill="#b4b4b4" class="b"/>
<line x1="190.36" y1="951.5" x2="190.36" y2="903.3" class="e"/>
<line x1="188.86" y1="903.3" x2="191.86" y2="903.3" class="c"/>
<rect x="188.81" y="952.17" width="3.09" height="94.92" fill="#262626" class="b"/>
<line x1="196.7" y1="957.2" x2="196.7" y2="908" class="e"/>
<line x1="195.2" y1="908" x2="198.2" y2="908" class="c"/>
<rect x="195.15" y="957.88" width="3.09" height="89.22" fill="#666666" class="b"/>
<line x1="207.05" y1="965.1" x2="207.05" y2="925.4" class="e"/>
<line x1="205.55" y1="925.4" x2="208.55" y2="925.4" class="c"/>
<rect x="205.5" y="965.77" width="3.09" height="81.32" fill="#000000" class="b"/>
<line x1="213.39" y1="970.6" x2="213.39" y2="933.4" class="e"/>
<line x1="211.89" y1="933.4" x2="214.89" y2="933.4" class="c"/>
<rect x="211.84" y="971.27" width="3.09" height="75.82" fill="#7a7a7a" class="b"/>
<line x1="219.73" y1="970.3" x2="219.73" y2="934.6" class="e"/>
<line x1="218.23" y1="934.6" x2="221.23" y2="934.6" class="c"/>
<rect x="218.18" y="970.97" width="3.09" height="76.12" fill="#4e4e4e" class="b"/>
<line x1="226.07" y1="964.2" x2="226.07" y2="924.5" class="e"/>
<line x1="224.57" y1="924.5" x2="227.57" y2="924.5" class="c"/>
<rect x="224.52" y="964.88" width="3.09" height="82.22" fill="#b4b4b4" class="b"/>
<line x1="232.41" y1="962.5" x2="232.41" y2="923.6" class="e"/>
<line x1="230.91" y1="923.6" x2="233.91" y2="923.6" class="c"/>
<rect x="230.86" y="963.17" width="3.09" height="83.92" fill="#262626" class="b"/>
<line x1="238.75" y1="962.5" x2="238.75" y2="919.8" class="e"/>
<line x1="237.25" y1="919.8" x2="240.25" y2="919.8" class="c"/>
<rect x="237.2" y="963.17" width="3.09" height="83.92" fill="#666666" class="b"/>
<line x1="249.1" y1="978.1" x2="249.1" y2="943.3" class="e"/>
<line x1="247.6" y1="943.3" x2="250.6" y2="943.3" class="c"/>
<rect x="247.55" y="978.77" width="3.09" height="68.32" fill="#000000" class="b"/>
<line x1="255.44" y1="971.2" x2="255.44" y2="933.7" class="e"/>
<line x1="253.94" y1="933.7" x2="256.94" y2="933.7" class="c"/>
<rect x="253.89" y="971.88" width="3.09" height="75.22" fill="#7a7a7a" class="b"/>
<line x1="261.78" y1="971.2" x2="261.78" y2="934.6" class="e"/>
<line x1="260.28" y1="934.6" x2="263.28" y2="934.6" class="c"/>
<rect x="260.23" y="971.88" width="3.09" height="75.22" fill="#4e4e4e" class="b"/>
<line x1="268.12" y1="964.2" x2="268.12" y2="925.9" class="e"/>
<line x1="266.62" y1="925.9" x2="269.62" y2="925.9" class="c"/>
<rect x="266.57" y="964.88" width="3.09" height="82.22" fill="#b4b4b4" class="b"/>
<line x1="274.46" y1="959" x2="274.46" y2="919.8" class="e"/>
<line x1="272.96" y1="919.8" x2="275.96" y2="919.8" class="c"/>
<rect x="272.91" y="959.67" width="3.09" height="87.42" fill="#262626" class="b"/>
<line x1="280.8" y1="966.8" x2="280.8" y2="929.4" class="e"/>
<line x1="279.3" y1="929.4" x2="282.3" y2="929.4" class="c"/>
<rect x="279.25" y="967.47" width="3.09" height="79.62" fill="#666666" class="b"/>
<line x1="291.15" y1="973.8" x2="291.15" y2="933.4" class="e"/>
<line x1="289.65" y1="933.4" x2="292.65" y2="933.4" class="c"/>
<rect x="289.6" y="974.47" width="3.09" height="72.62" fill="#000000" class="b"/>
<line x1="297.49" y1="960.2" x2="297.49" y2="917.5" class="e"/>
<line x1="295.99" y1="917.5" x2="298.99" y2="917.5" class="c"/>
<rect x="295.94" y="960.88" width="3.09" height="86.22" fill="#7a7a7a" class="b"/>
<line x1="303.83" y1="958.5" x2="303.83" y2="916.7" class="e"/>
<line x1="302.33" y1="916.7" x2="305.33" y2="916.7" class="c"/>
<rect x="302.28" y="959.17" width="3.09" height="87.92" fill="#4e4e4e" class="b"/>
<line x1="310.17" y1="948.5" x2="310.17" y2="905.5" class="e"/>
<line x1="308.67" y1="905.5" x2="311.67" y2="905.5" class="c"/>
<rect x="308.62" y="949.17" width="3.09" height="97.92" fill="#b4b4b4" class="b"/>
<line x1="316.51" y1="948.9" x2="316.51" y2="908.1" class="e"/>
<line x1="315.01" y1="908.1" x2="318.01" y2="908.1" class="c"/>
<rect x="314.96" y="949.57" width="3.09" height="97.52" fill="#262626" class="b"/>
<line x1="322.85" y1="956.7" x2="322.85" y2="917.5" class="e"/>
<line x1="321.35" y1="917.5" x2="324.35" y2="917.5" class="c"/>
<rect x="321.3" y="957.38" width="3.09" height="89.72" fill="#666666" class="b"/>
<line x1="35" y1="861.9" x2="35" y2="1047.8" class="a"/>
<line x1="34.3" y1="1047.1" x2="327.8" y2="1047.1" class="a"/>
<line x1="32.4" y1="1039.72" x2="35" y2="1039.72" class="t"/>
<line x1="32.4" y1="1032.34" x2="35" y2="1032.34" class="t"/>
<line x1="32.4" y1="1024.96" x2="35" y2="1024.96" class="t"/>
<line x1="32.4" y1="1017.58" x2="35" y2="1017.58" class="t"/>
<line x1="32.4" y1="1010.2" x2="35" y2="1010.2" class="t"/>
<line x1="32.4" y1="1002.82" x2="35" y2="1002.82" class="t"/>
<line x1="32.4" y1="995.44" x2="35" y2="995.44" class="t"/>
<line x1="32.4" y1="988.06" x2="35" y2="988.06" class="t"/>
<line x1="32.4" y1="980.68" x2="35" y2="980.68" class="t"/>
<line x1="32.4" y1="965.92" x2="35" y2="965.92" class="t"/>
<line x1="32.4" y1="958.54" x2="35" y2="958.54" class="t"/>
<line x1="32.4" y1="951.16" x2="35" y2="951.16" class="t"/>
<line x1="32.4" y1="943.78" x2="35" y2="943.78" class="t"/>
<line x1="32.4" y1="936.4" x2="35" y2="936.4" class="t"/>
<line x1="32.4" y1="929.02" x2="35" y2="929.02" class="t"/>
<line x1="32.4" y1="921.64" x2="35" y2="921.64" class="t"/>
<line x1="32.4" y1="914.26" x2="35" y2="914.26" class="t"/>
<line x1="32.4" y1="906.88" x2="35" y2="906.88" class="t"/>
<line x1="32.4" y1="892.12" x2="35" y2="892.12" class="t"/>
<line x1="32.4" y1="884.74" x2="35" y2="884.74" class="t"/>
<line x1="32.4" y1="877.36" x2="35" y2="877.36" class="t"/>
<line x1="32.4" y1="869.98" x2="35" y2="869.98" class="t"/>
<line x1="32.4" y1="862.6" x2="35" y2="862.6" class="t"/>
<line x1="30.8" y1="1047.1" x2="35" y2="1047.1" class="t"/>
<line x1="30.8" y1="973.3" x2="35" y2="973.3" class="t"/>
<line x1="30.8" y1="899.5" x2="35" y2="899.5" class="t"/>
<text transform="translate(30.6 1051.4) scale(1 1.12)" class="yl">0</text>
<text transform="translate(30.6 977.6) scale(1 1.12)" class="yl">50</text>
<text transform="translate(30.6 903.8) scale(1 1.12)" class="yl">100</text>
<line x1="54.7" y1="1047.1" x2="54.7" y2="1051.5" class="t"/>
<text transform="translate(57.7 1058.5) rotate(-45) scale(1 1.05)" class="xl">North</text>
<line x1="96.75" y1="1047.1" x2="96.75" y2="1051.5" class="t"/>
<text transform="translate(99.75 1058.5) rotate(-45) scale(1 1.05)" class="xl">Northeast</text>
<line x1="138.8" y1="1047.1" x2="138.8" y2="1051.5" class="t"/>
<text transform="translate(141.8 1058.5) rotate(-45) scale(1 1.05)" class="xl">East</text>
<line x1="180.85" y1="1047.1" x2="180.85" y2="1051.5" class="t"/>
<text transform="translate(183.85 1058.5) rotate(-45) scale(1 1.05)" class="xl">Central</text>
<line x1="222.9" y1="1047.1" x2="222.9" y2="1051.5" class="t"/>
<text transform="translate(225.9 1058.5) rotate(-45) scale(1 1.05)" class="xl">South</text>
<line x1="264.95" y1="1047.1" x2="264.95" y2="1051.5" class="t"/>
<text transform="translate(267.95 1058.5) rotate(-45) scale(1 1.05)" class="xl">Southwest</text>
<line x1="307" y1="1047.1" x2="307" y2="1051.5" class="t"/>
<text transform="translate(310 1058.5) rotate(-45) scale(1 1.05)" class="xl">Northwest</text>
<text transform="translate(181.4 1099.1) scale(1 1.06)" class="rg">Region</text>
<text transform="translate(181.4 858.8) scale(1 1.05)" class="ti"><tspan>O</tspan><tspan dy="6.3" font-size="14.5">3</tspan></text>
<text transform="translate(12 952) rotate(-90)" class="yt"><tspan>O</tspan><tspan dy="2.6" font-size="8">3</tspan><tspan dy="-2.6"> (µg/m</tspan><tspan dy="-4.6" font-size="8">3</tspan><tspan dy="4.6">)</tspan></text>
<rect x="253.5" y="852.3" width="8.4" height="4.5" fill="#000000" class="lb"/>
<text x="266.9" y="856.91" class="lg" font-size="6.6">2014</text>
<rect x="253.5" y="863.28" width="8.4" height="4.5" fill="#7a7a7a" class="lb"/>
<text x="266.9" y="867.89" class="lg" font-size="6.6">2015</text>
<rect x="253.5" y="874.26" width="8.4" height="4.5" fill="#4e4e4e" class="lb"/>
<text x="266.9" y="878.87" class="lg" font-size="6.6">2016</text>
<rect x="253.5" y="885.24" width="8.4" height="4.5" fill="#b4b4b4" class="lb"/>
<text x="266.9" y="889.85" class="lg" font-size="6.6">2017</text>
<rect x="253.5" y="896.22" width="8.4" height="4.5" fill="#262626" class="lb"/>
<text x="266.9" y="900.83" class="lg" font-size="6.6">2018</text>
<rect x="253.5" y="907.2" width="8.4" height="4.5" fill="#666666" class="lb"/>
<text x="266.9" y="911.81" class="lg" font-size="6.6">2019</text>
</svg></body></html>
